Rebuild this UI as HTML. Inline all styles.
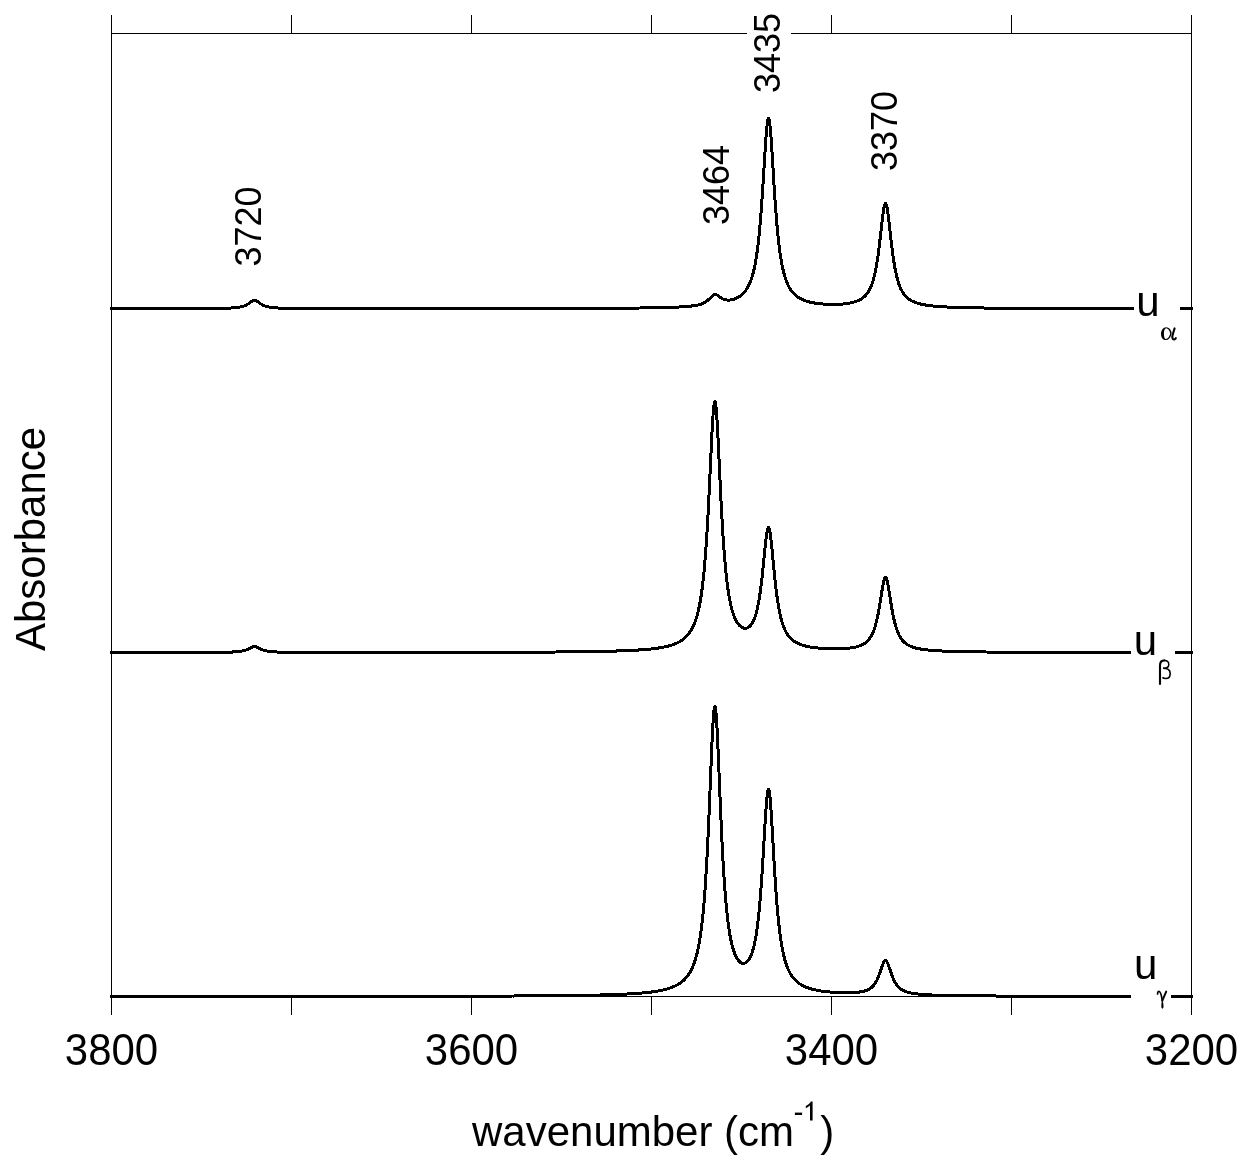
<!DOCTYPE html>
<html><head><meta charset="utf-8"><style>
html,body{margin:0;padding:0;background:#fff;}
svg{display:block;will-change:transform;}
text{font-family:"Liberation Sans",sans-serif;fill:#000;}
.g{font-family:"Liberation Serif",serif;}
</style></head><body>
<svg width="1253" height="1173" viewBox="0 0 1253 1173">
<rect width="1253" height="1173" fill="#fff"/>
<g stroke="#000" stroke-width="1" fill="none" shape-rendering="crispEdges">
<line x1="111.5" y1="15" x2="111.5" y2="1015"/>
<line x1="1191.5" y1="15" x2="1191.5" y2="1015"/>
<line x1="111" y1="33.5" x2="1192" y2="33.5"/>
<line x1="111" y1="996.5" x2="1192" y2="996.5"/>
<line x1="291.5" y1="15" x2="291.5" y2="33.5"/><line x1="291.5" y1="996" x2="291.5" y2="1015"/><line x1="471.5" y1="15" x2="471.5" y2="33.5"/><line x1="471.5" y1="996" x2="471.5" y2="1015"/><line x1="651.5" y1="15" x2="651.5" y2="33.5"/><line x1="651.5" y1="996" x2="651.5" y2="1015"/><line x1="831.5" y1="15" x2="831.5" y2="33.5"/><line x1="831.5" y1="996" x2="831.5" y2="1015"/><line x1="1011.5" y1="15" x2="1011.5" y2="33.5"/><line x1="1011.5" y1="996" x2="1011.5" y2="1015"/>
</g>
<g stroke="#000" stroke-width="3" fill="none" stroke-linejoin="round" shape-rendering="crispEdges">
<path d="M110.0,308.75 L110.5,308.74 L111.0,308.74 L111.5,308.74 L112.0,308.74 L112.5,308.74 L113.0,308.74 L113.5,308.74 L114.0,308.74 L114.5,308.74 L115.0,308.74 L115.5,308.74 L116.0,308.74 L116.5,308.74 L117.0,308.74 L117.5,308.74 L118.0,308.74 L118.5,308.74 L119.0,308.74 L119.5,308.74 L120.0,308.74 L120.5,308.74 L121.0,308.74 L121.5,308.74 L122.0,308.74 L122.5,308.74 L123.0,308.74 L123.5,308.74 L124.0,308.74 L124.5,308.74 L125.0,308.74 L125.5,308.74 L126.0,308.74 L126.5,308.74 L127.0,308.74 L127.5,308.74 L128.0,308.74 L128.5,308.74 L129.0,308.74 L129.5,308.74 L130.0,308.74 L130.5,308.74 L131.0,308.74 L131.5,308.73 L132.0,308.73 L132.5,308.73 L133.0,308.73 L133.5,308.73 L134.0,308.73 L134.5,308.73 L135.0,308.73 L135.5,308.73 L136.0,308.73 L136.5,308.73 L137.0,308.73 L137.5,308.73 L138.0,308.73 L138.5,308.73 L139.0,308.73 L139.5,308.73 L140.0,308.73 L140.5,308.73 L141.0,308.73 L141.5,308.73 L142.0,308.73 L142.5,308.73 L143.0,308.73 L143.5,308.73 L144.0,308.73 L144.5,308.73 L145.0,308.73 L145.5,308.73 L146.0,308.73 L146.5,308.72 L147.0,308.72 L147.5,308.72 L148.0,308.72 L148.5,308.72 L149.0,308.72 L149.5,308.72 L150.0,308.72 L150.5,308.72 L151.0,308.72 L151.5,308.72 L152.0,308.72 L152.5,308.72 L153.0,308.72 L153.5,308.72 L154.0,308.72 L154.5,308.72 L155.0,308.72 L155.5,308.72 L156.0,308.72 L156.5,308.72 L157.0,308.71 L157.5,308.71 L158.0,308.71 L158.5,308.71 L159.0,308.71 L159.5,308.71 L160.0,308.71 L160.5,308.71 L161.0,308.71 L161.5,308.71 L162.0,308.71 L162.5,308.71 L163.0,308.71 L163.5,308.71 L164.0,308.71 L164.5,308.71 L165.0,308.71 L165.5,308.70 L166.0,308.70 L166.5,308.70 L167.0,308.70 L167.5,308.70 L168.0,308.70 L168.5,308.70 L169.0,308.70 L169.5,308.70 L170.0,308.70 L170.5,308.70 L171.0,308.70 L171.5,308.70 L172.0,308.69 L172.5,308.69 L173.0,308.69 L173.5,308.69 L174.0,308.69 L174.5,308.69 L175.0,308.69 L175.5,308.69 L176.0,308.69 L176.5,308.69 L177.0,308.69 L177.5,308.68 L178.0,308.68 L178.5,308.68 L179.0,308.68 L179.5,308.68 L180.0,308.68 L180.5,308.68 L181.0,308.68 L181.5,308.68 L182.0,308.67 L182.5,308.67 L183.0,308.67 L183.5,308.67 L184.0,308.67 L184.5,308.67 L185.0,308.67 L185.5,308.67 L186.0,308.66 L186.5,308.66 L187.0,308.66 L187.5,308.66 L188.0,308.66 L188.5,308.66 L189.0,308.66 L189.5,308.65 L190.0,308.65 L190.5,308.65 L191.0,308.65 L191.5,308.65 L192.0,308.65 L192.5,308.64 L193.0,308.64 L193.5,308.64 L194.0,308.64 L194.5,308.64 L195.0,308.63 L195.5,308.63 L196.0,308.63 L196.5,308.63 L197.0,308.62 L197.5,308.62 L198.0,308.62 L198.5,308.62 L199.0,308.62 L199.5,308.61 L200.0,308.61 L200.5,308.61 L201.0,308.60 L201.5,308.60 L202.0,308.60 L202.5,308.60 L203.0,308.59 L203.5,308.59 L204.0,308.59 L204.5,308.58 L205.0,308.58 L205.5,308.58 L206.0,308.57 L206.5,308.57 L207.0,308.56 L207.5,308.56 L208.0,308.56 L208.5,308.55 L209.0,308.55 L209.5,308.54 L210.0,308.54 L210.5,308.53 L211.0,308.53 L211.5,308.52 L212.0,308.52 L212.5,308.51 L213.0,308.51 L213.5,308.50 L214.0,308.49 L214.5,308.49 L215.0,308.48 L215.5,308.47 L216.0,308.47 L216.5,308.46 L217.0,308.45 L217.5,308.44 L218.0,308.44 L218.5,308.43 L219.0,308.42 L219.5,308.41 L220.0,308.40 L220.5,308.39 L221.0,308.38 L221.5,308.37 L222.0,308.36 L222.5,308.35 L223.0,308.33 L223.5,308.32 L224.0,308.31 L224.5,308.29 L225.0,308.28 L225.5,308.26 L226.0,308.25 L226.5,308.23 L227.0,308.21 L227.5,308.19 L228.0,308.17 L228.5,308.15 L229.0,308.13 L229.5,308.11 L230.0,308.08 L230.5,308.06 L231.0,308.03 L231.5,308.00 L232.0,307.97 L232.5,307.94 L233.0,307.90 L233.5,307.87 L234.0,307.83 L234.5,307.79 L235.0,307.74 L235.5,307.69 L236.0,307.64 L236.5,307.59 L237.0,307.53 L237.5,307.47 L238.0,307.40 L238.5,307.33 L239.0,307.25 L239.5,307.16 L240.0,307.07 L240.5,306.97 L241.0,306.86 L241.5,306.75 L242.0,306.62 L242.5,306.48 L243.0,306.33 L243.5,306.17 L244.0,306.00 L244.5,305.81 L245.0,305.61 L245.5,305.39 L246.0,305.15 L246.5,304.90 L247.0,304.62 L247.5,304.33 L248.0,304.03 L248.5,303.70 L249.0,303.37 L249.5,303.02 L250.0,302.66 L250.5,302.31 L251.0,301.96 L251.5,301.62 L252.0,301.31 L252.5,301.04 L253.0,300.81 L253.5,300.64 L254.0,300.54 L254.5,300.50 L255.0,300.54 L255.5,300.64 L256.0,300.81 L256.5,301.04 L257.0,301.31 L257.5,301.62 L258.0,301.96 L258.5,302.31 L259.0,302.66 L259.5,303.02 L260.0,303.36 L260.5,303.70 L261.0,304.02 L261.5,304.33 L262.0,304.62 L262.5,304.89 L263.0,305.15 L263.5,305.38 L264.0,305.60 L264.5,305.81 L265.0,305.99 L265.5,306.17 L266.0,306.33 L266.5,306.48 L267.0,306.61 L267.5,306.74 L268.0,306.86 L268.5,306.96 L269.0,307.06 L269.5,307.16 L270.0,307.24 L270.5,307.32 L271.0,307.39 L271.5,307.46 L272.0,307.52 L272.5,307.58 L273.0,307.63 L273.5,307.69 L274.0,307.73 L274.5,307.78 L275.0,307.82 L275.5,307.86 L276.0,307.89 L276.5,307.93 L277.0,307.96 L277.5,307.99 L278.0,308.02 L278.5,308.05 L279.0,308.07 L279.5,308.10 L280.0,308.12 L280.5,308.14 L281.0,308.16 L281.5,308.18 L282.0,308.20 L282.5,308.22 L283.0,308.23 L283.5,308.25 L284.0,308.27 L284.5,308.28 L285.0,308.29 L285.5,308.31 L286.0,308.32 L286.5,308.33 L287.0,308.34 L287.5,308.36 L288.0,308.37 L288.5,308.38 L289.0,308.39 L289.5,308.40 L290.0,308.40 L290.5,308.41 L291.0,308.42 L291.5,308.43 L292.0,308.44 L292.5,308.44 L293.0,308.45 L293.5,308.46 L294.0,308.47 L294.5,308.47 L295.0,308.48 L295.5,308.48 L296.0,308.49 L296.5,308.49 L297.0,308.50 L297.5,308.51 L298.0,308.51 L298.5,308.51 L299.0,308.52 L299.5,308.52 L300.0,308.53 L300.5,308.53 L301.0,308.54 L301.5,308.54 L302.0,308.54 L302.5,308.55 L303.0,308.55 L303.5,308.56 L304.0,308.56 L304.5,308.56 L305.0,308.57 L305.5,308.57 L306.0,308.57 L306.5,308.57 L307.0,308.58 L307.5,308.58 L308.0,308.58 L308.5,308.58 L309.0,308.59 L309.5,308.59 L310.0,308.59 L310.5,308.59 L311.0,308.60 L311.5,308.60 L312.0,308.60 L312.5,308.60 L313.0,308.60 L313.5,308.61 L314.0,308.61 L314.5,308.61 L315.0,308.61 L315.5,308.61 L316.0,308.62 L316.5,308.62 L317.0,308.62 L317.5,308.62 L318.0,308.62 L318.5,308.62 L319.0,308.63 L319.5,308.63 L320.0,308.63 L320.5,308.63 L321.0,308.63 L321.5,308.63 L322.0,308.63 L322.5,308.63 L323.0,308.64 L323.5,308.64 L324.0,308.64 L324.5,308.64 L325.0,308.64 L325.5,308.64 L326.0,308.64 L326.5,308.64 L327.0,308.64 L327.5,308.65 L328.0,308.65 L328.5,308.65 L329.0,308.65 L329.5,308.65 L330.0,308.65 L330.5,308.65 L331.0,308.65 L331.5,308.65 L332.0,308.65 L332.5,308.65 L333.0,308.65 L333.5,308.65 L334.0,308.66 L334.5,308.66 L335.0,308.66 L335.5,308.66 L336.0,308.66 L336.5,308.66 L337.0,308.66 L337.5,308.66 L338.0,308.66 L338.5,308.66 L339.0,308.66 L339.5,308.66 L340.0,308.66 L340.5,308.66 L341.0,308.66 L341.5,308.66 L342.0,308.66 L342.5,308.67 L343.0,308.67 L343.5,308.67 L344.0,308.67 L344.5,308.67 L345.0,308.67 L345.5,308.67 L346.0,308.67 L346.5,308.67 L347.0,308.67 L347.5,308.67 L348.0,308.67 L348.5,308.67 L349.0,308.67 L349.5,308.67 L350.0,308.67 L350.5,308.67 L351.0,308.67 L351.5,308.67 L352.0,308.67 L352.5,308.67 L353.0,308.67 L353.5,308.67 L354.0,308.67 L354.5,308.67 L355.0,308.67 L355.5,308.67 L356.0,308.67 L356.5,308.67 L357.0,308.67 L357.5,308.67 L358.0,308.68 L358.5,308.68 L359.0,308.68 L359.5,308.68 L360.0,308.68 L360.5,308.68 L361.0,308.68 L361.5,308.68 L362.0,308.68 L362.5,308.68 L363.0,308.68 L363.5,308.68 L364.0,308.68 L364.5,308.68 L365.0,308.68 L365.5,308.68 L366.0,308.68 L366.5,308.68 L367.0,308.68 L367.5,308.68 L368.0,308.68 L368.5,308.68 L369.0,308.68 L369.5,308.68 L370.0,308.68 L370.5,308.68 L371.0,308.68 L371.5,308.68 L372.0,308.68 L372.5,308.68 L373.0,308.68 L373.5,308.68 L374.0,308.68 L374.5,308.68 L375.0,308.68 L375.5,308.68 L376.0,308.68 L376.5,308.68 L377.0,308.68 L377.5,308.68 L378.0,308.68 L378.5,308.68 L379.0,308.68 L379.5,308.68 L380.0,308.68 L380.5,308.68 L381.0,308.68 L381.5,308.68 L382.0,308.68 L382.5,308.68 L383.0,308.68 L383.5,308.68 L384.0,308.68 L384.5,308.68 L385.0,308.68 L385.5,308.68 L386.0,308.68 L386.5,308.68 L387.0,308.68 L387.5,308.68 L388.0,308.68 L388.5,308.68 L389.0,308.68 L389.5,308.68 L390.0,308.68 L390.5,308.68 L391.0,308.68 L391.5,308.68 L392.0,308.68 L392.5,308.68 L393.0,308.68 L393.5,308.68 L394.0,308.68 L394.5,308.68 L395.0,308.68 L395.5,308.68 L396.0,308.68 L396.5,308.68 L397.0,308.68 L397.5,308.68 L398.0,308.68 L398.5,308.68 L399.0,308.68 L399.5,308.68 L400.0,308.68 L400.5,308.68 L401.0,308.68 L401.5,308.68 L402.0,308.68 L402.5,308.68 L403.0,308.68 L403.5,308.67 L404.0,308.67 L404.5,308.67 L405.0,308.67 L405.5,308.67 L406.0,308.67 L406.5,308.67 L407.0,308.67 L407.5,308.67 L408.0,308.67 L408.5,308.67 L409.0,308.67 L409.5,308.67 L410.0,308.67 L410.5,308.67 L411.0,308.67 L411.5,308.67 L412.0,308.67 L412.5,308.67 L413.0,308.67 L413.5,308.67 L414.0,308.67 L414.5,308.67 L415.0,308.67 L415.5,308.67 L416.0,308.67 L416.5,308.67 L417.0,308.67 L417.5,308.67 L418.0,308.67 L418.5,308.67 L419.0,308.67 L419.5,308.67 L420.0,308.67 L420.5,308.67 L421.0,308.67 L421.5,308.67 L422.0,308.67 L422.5,308.67 L423.0,308.67 L423.5,308.67 L424.0,308.67 L424.5,308.67 L425.0,308.67 L425.5,308.67 L426.0,308.67 L426.5,308.67 L427.0,308.67 L427.5,308.67 L428.0,308.67 L428.5,308.66 L429.0,308.66 L429.5,308.66 L430.0,308.66 L430.5,308.66 L431.0,308.66 L431.5,308.66 L432.0,308.66 L432.5,308.66 L433.0,308.66 L433.5,308.66 L434.0,308.66 L434.5,308.66 L435.0,308.66 L435.5,308.66 L436.0,308.66 L436.5,308.66 L437.0,308.66 L437.5,308.66 L438.0,308.66 L438.5,308.66 L439.0,308.66 L439.5,308.66 L440.0,308.66 L440.5,308.66 L441.0,308.66 L441.5,308.66 L442.0,308.66 L442.5,308.66 L443.0,308.66 L443.5,308.66 L444.0,308.66 L444.5,308.66 L445.0,308.66 L445.5,308.65 L446.0,308.65 L446.5,308.65 L447.0,308.65 L447.5,308.65 L448.0,308.65 L448.5,308.65 L449.0,308.65 L449.5,308.65 L450.0,308.65 L450.5,308.65 L451.0,308.65 L451.5,308.65 L452.0,308.65 L452.5,308.65 L453.0,308.65 L453.5,308.65 L454.0,308.65 L454.5,308.65 L455.0,308.65 L455.5,308.65 L456.0,308.65 L456.5,308.65 L457.0,308.65 L457.5,308.65 L458.0,308.65 L458.5,308.65 L459.0,308.65 L459.5,308.64 L460.0,308.64 L460.5,308.64 L461.0,308.64 L461.5,308.64 L462.0,308.64 L462.5,308.64 L463.0,308.64 L463.5,308.64 L464.0,308.64 L464.5,308.64 L465.0,308.64 L465.5,308.64 L466.0,308.64 L466.5,308.64 L467.0,308.64 L467.5,308.64 L468.0,308.64 L468.5,308.64 L469.0,308.64 L469.5,308.64 L470.0,308.64 L470.5,308.64 L471.0,308.63 L471.5,308.63 L472.0,308.63 L472.5,308.63 L473.0,308.63 L473.5,308.63 L474.0,308.63 L474.5,308.63 L475.0,308.63 L475.5,308.63 L476.0,308.63 L476.5,308.63 L477.0,308.63 L477.5,308.63 L478.0,308.63 L478.5,308.63 L479.0,308.63 L479.5,308.63 L480.0,308.63 L480.5,308.63 L481.0,308.63 L481.5,308.62 L482.0,308.62 L482.5,308.62 L483.0,308.62 L483.5,308.62 L484.0,308.62 L484.5,308.62 L485.0,308.62 L485.5,308.62 L486.0,308.62 L486.5,308.62 L487.0,308.62 L487.5,308.62 L488.0,308.62 L488.5,308.62 L489.0,308.62 L489.5,308.62 L490.0,308.62 L490.5,308.61 L491.0,308.61 L491.5,308.61 L492.0,308.61 L492.5,308.61 L493.0,308.61 L493.5,308.61 L494.0,308.61 L494.5,308.61 L495.0,308.61 L495.5,308.61 L496.0,308.61 L496.5,308.61 L497.0,308.61 L497.5,308.61 L498.0,308.61 L498.5,308.61 L499.0,308.60 L499.5,308.60 L500.0,308.60 L500.5,308.60 L501.0,308.60 L501.5,308.60 L502.0,308.60 L502.5,308.60 L503.0,308.60 L503.5,308.60 L504.0,308.60 L504.5,308.60 L505.0,308.60 L505.5,308.60 L506.0,308.60 L506.5,308.59 L507.0,308.59 L507.5,308.59 L508.0,308.59 L508.5,308.59 L509.0,308.59 L509.5,308.59 L510.0,308.59 L510.5,308.59 L511.0,308.59 L511.5,308.59 L512.0,308.59 L512.5,308.59 L513.0,308.59 L513.5,308.58 L514.0,308.58 L514.5,308.58 L515.0,308.58 L515.5,308.58 L516.0,308.58 L516.5,308.58 L517.0,308.58 L517.5,308.58 L518.0,308.58 L518.5,308.58 L519.0,308.58 L519.5,308.57 L520.0,308.57 L520.5,308.57 L521.0,308.57 L521.5,308.57 L522.0,308.57 L522.5,308.57 L523.0,308.57 L523.5,308.57 L524.0,308.57 L524.5,308.57 L525.0,308.57 L525.5,308.56 L526.0,308.56 L526.5,308.56 L527.0,308.56 L527.5,308.56 L528.0,308.56 L528.5,308.56 L529.0,308.56 L529.5,308.56 L530.0,308.56 L530.5,308.56 L531.0,308.55 L531.5,308.55 L532.0,308.55 L532.5,308.55 L533.0,308.55 L533.5,308.55 L534.0,308.55 L534.5,308.55 L535.0,308.55 L535.5,308.55 L536.0,308.54 L536.5,308.54 L537.0,308.54 L537.5,308.54 L538.0,308.54 L538.5,308.54 L539.0,308.54 L539.5,308.54 L540.0,308.54 L540.5,308.54 L541.0,308.53 L541.5,308.53 L542.0,308.53 L542.5,308.53 L543.0,308.53 L543.5,308.53 L544.0,308.53 L544.5,308.53 L545.0,308.53 L545.5,308.52 L546.0,308.52 L546.5,308.52 L547.0,308.52 L547.5,308.52 L548.0,308.52 L548.5,308.52 L549.0,308.52 L549.5,308.52 L550.0,308.51 L550.5,308.51 L551.0,308.51 L551.5,308.51 L552.0,308.51 L552.5,308.51 L553.0,308.51 L553.5,308.51 L554.0,308.50 L554.5,308.50 L555.0,308.50 L555.5,308.50 L556.0,308.50 L556.5,308.50 L557.0,308.50 L557.5,308.49 L558.0,308.49 L558.5,308.49 L559.0,308.49 L559.5,308.49 L560.0,308.49 L560.5,308.49 L561.0,308.48 L561.5,308.48 L562.0,308.48 L562.5,308.48 L563.0,308.48 L563.5,308.48 L564.0,308.48 L564.5,308.47 L565.0,308.47 L565.5,308.47 L566.0,308.47 L566.5,308.47 L567.0,308.47 L567.5,308.47 L568.0,308.46 L568.5,308.46 L569.0,308.46 L569.5,308.46 L570.0,308.46 L570.5,308.46 L571.0,308.45 L571.5,308.45 L572.0,308.45 L572.5,308.45 L573.0,308.45 L573.5,308.45 L574.0,308.44 L574.5,308.44 L575.0,308.44 L575.5,308.44 L576.0,308.44 L576.5,308.43 L577.0,308.43 L577.5,308.43 L578.0,308.43 L578.5,308.43 L579.0,308.43 L579.5,308.42 L580.0,308.42 L580.5,308.42 L581.0,308.42 L581.5,308.42 L582.0,308.41 L582.5,308.41 L583.0,308.41 L583.5,308.41 L584.0,308.41 L584.5,308.40 L585.0,308.40 L585.5,308.40 L586.0,308.40 L586.5,308.40 L587.0,308.39 L587.5,308.39 L588.0,308.39 L588.5,308.39 L589.0,308.38 L589.5,308.38 L590.0,308.38 L590.5,308.38 L591.0,308.38 L591.5,308.37 L592.0,308.37 L592.5,308.37 L593.0,308.37 L593.5,308.36 L594.0,308.36 L594.5,308.36 L595.0,308.36 L595.5,308.35 L596.0,308.35 L596.5,308.35 L597.0,308.35 L597.5,308.34 L598.0,308.34 L598.5,308.34 L599.0,308.34 L599.5,308.33 L600.0,308.33 L600.5,308.33 L601.0,308.33 L601.5,308.32 L602.0,308.32 L602.5,308.32 L603.0,308.31 L603.5,308.31 L604.0,308.31 L604.5,308.31 L605.0,308.30 L605.5,308.30 L606.0,308.30 L606.5,308.29 L607.0,308.29 L607.5,308.29 L608.0,308.28 L608.5,308.28 L609.0,308.28 L609.5,308.27 L610.0,308.27 L610.5,308.27 L611.0,308.26 L611.5,308.26 L612.0,308.26 L612.5,308.25 L613.0,308.25 L613.5,308.25 L614.0,308.24 L614.5,308.24 L615.0,308.24 L615.5,308.23 L616.0,308.23 L616.5,308.23 L617.0,308.22 L617.5,308.22 L618.0,308.21 L618.5,308.21 L619.0,308.21 L619.5,308.20 L620.0,308.20 L620.5,308.20 L621.0,308.19 L621.5,308.19 L622.0,308.18 L622.5,308.18 L623.0,308.17 L623.5,308.17 L624.0,308.17 L624.5,308.16 L625.0,308.16 L625.5,308.15 L626.0,308.15 L626.5,308.14 L627.0,308.14 L627.5,308.13 L628.0,308.13 L628.5,308.12 L629.0,308.12 L629.5,308.11 L630.0,308.11 L630.5,308.10 L631.0,308.10 L631.5,308.09 L632.0,308.09 L632.5,308.08 L633.0,308.08 L633.5,308.07 L634.0,308.07 L634.5,308.06 L635.0,308.06 L635.5,308.05 L636.0,308.04 L636.5,308.04 L637.0,308.03 L637.5,308.03 L638.0,308.02 L638.5,308.01 L639.0,308.01 L639.5,308.00 L640.0,308.00 L640.5,307.99 L641.0,307.98 L641.5,307.98 L642.0,307.97 L642.5,307.96 L643.0,307.96 L643.5,307.95 L644.0,307.94 L644.5,307.93 L645.0,307.93 L645.5,307.92 L646.0,307.91 L646.5,307.91 L647.0,307.90 L647.5,307.89 L648.0,307.88 L648.5,307.87 L649.0,307.87 L649.5,307.86 L650.0,307.85 L650.5,307.84 L651.0,307.83 L651.5,307.82 L652.0,307.81 L652.5,307.80 L653.0,307.80 L653.5,307.79 L654.0,307.78 L654.5,307.77 L655.0,307.76 L655.5,307.75 L656.0,307.74 L656.5,307.73 L657.0,307.72 L657.5,307.71 L658.0,307.70 L658.5,307.68 L659.0,307.67 L659.5,307.66 L660.0,307.65 L660.5,307.64 L661.0,307.63 L661.5,307.61 L662.0,307.60 L662.5,307.59 L663.0,307.58 L663.5,307.56 L664.0,307.55 L664.5,307.54 L665.0,307.52 L665.5,307.51 L666.0,307.50 L666.5,307.48 L667.0,307.47 L667.5,307.45 L668.0,307.44 L668.5,307.42 L669.0,307.40 L669.5,307.39 L670.0,307.37 L670.5,307.35 L671.0,307.34 L671.5,307.32 L672.0,307.30 L672.5,307.28 L673.0,307.26 L673.5,307.24 L674.0,307.22 L674.5,307.20 L675.0,307.18 L675.5,307.16 L676.0,307.14 L676.5,307.12 L677.0,307.09 L677.5,307.07 L678.0,307.04 L678.5,307.02 L679.0,306.99 L679.5,306.97 L680.0,306.94 L680.5,306.91 L681.0,306.89 L681.5,306.86 L682.0,306.83 L682.5,306.80 L683.0,306.76 L683.5,306.73 L684.0,306.70 L684.5,306.66 L685.0,306.63 L685.5,306.59 L686.0,306.55 L686.5,306.51 L687.0,306.47 L687.5,306.43 L688.0,306.38 L688.5,306.34 L689.0,306.29 L689.5,306.24 L690.0,306.19 L690.5,306.14 L691.0,306.08 L691.5,306.02 L692.0,305.96 L692.5,305.90 L693.0,305.83 L693.5,305.76 L694.0,305.69 L694.5,305.61 L695.0,305.53 L695.5,305.45 L696.0,305.36 L696.5,305.27 L697.0,305.17 L697.5,305.06 L698.0,304.95 L698.5,304.83 L699.0,304.70 L699.5,304.57 L700.0,304.42 L700.5,304.27 L701.0,304.11 L701.5,303.93 L702.0,303.74 L702.5,303.54 L703.0,303.32 L703.5,303.09 L704.0,302.84 L704.5,302.57 L705.0,302.28 L705.5,301.97 L706.0,301.64 L706.5,301.29 L707.0,300.91 L707.5,300.51 L708.0,300.08 L708.5,299.63 L709.0,299.16 L709.5,298.67 L710.0,298.17 L710.5,297.66 L711.0,297.15 L711.5,296.65 L712.0,296.17 L712.5,295.72 L713.0,295.33 L713.5,295.00 L714.0,294.74 L714.5,294.57 L714.9,294.50 L715.0,294.48 L715.5,294.49 L716.0,294.59 L716.5,294.76 L717.0,295.01 L717.5,295.30 L718.0,295.64 L718.5,296.00 L719.0,296.38 L719.5,296.76 L720.0,297.13 L720.5,297.49 L721.0,297.83 L721.5,298.15 L722.0,298.45 L722.5,298.72 L723.0,298.96 L723.5,299.18 L724.0,299.37 L724.5,299.54 L725.0,299.68 L725.5,299.80 L726.0,299.90 L726.5,299.97 L727.0,300.03 L727.5,300.07 L728.0,300.09 L728.5,300.09 L729.0,300.07 L729.5,300.04 L730.0,299.99 L730.5,299.93 L731.0,299.86 L731.5,299.77 L732.0,299.67 L732.5,299.55 L733.0,299.42 L733.5,299.28 L734.0,299.12 L734.5,298.95 L735.0,298.77 L735.5,298.57 L736.0,298.36 L736.5,298.13 L737.0,297.89 L737.5,297.63 L738.0,297.36 L738.5,297.07 L739.0,296.77 L739.5,296.44 L740.0,296.10 L740.5,295.74 L741.0,295.35 L741.5,294.95 L742.0,294.52 L742.5,294.06 L743.0,293.58 L743.5,293.07 L744.0,292.53 L744.5,291.96 L745.0,291.35 L745.5,290.70 L746.0,290.01 L746.5,289.28 L747.0,288.51 L747.5,287.68 L748.0,286.79 L748.5,285.85 L749.0,284.84 L749.5,283.76 L750.0,282.60 L750.5,281.36 L751.0,280.02 L751.5,278.58 L752.0,277.03 L752.5,275.36 L753.0,273.56 L753.5,271.61 L754.0,269.50 L754.5,267.22 L755.0,264.75 L755.5,262.07 L756.0,259.17 L756.5,256.02 L757.0,252.61 L757.5,248.92 L758.0,244.92 L758.5,240.59 L759.0,235.91 L759.5,230.86 L760.0,225.42 L760.5,219.58 L761.0,213.33 L761.5,206.67 L762.0,199.61 L762.5,192.18 L763.0,184.43 L763.5,176.42 L764.0,168.25 L764.5,160.06 L765.0,152.02 L765.5,144.32 L766.0,137.20 L766.5,130.90 L767.0,125.68 L767.5,121.76 L768.0,119.33 L768.5,118.50 L769.0,119.33 L769.5,121.76 L770.0,125.68 L770.5,130.90 L771.0,137.20 L771.5,144.32 L772.0,152.02 L772.5,160.06 L773.0,168.25 L773.5,176.42 L774.0,184.43 L774.5,192.19 L775.0,199.62 L775.5,206.68 L776.0,213.34 L776.5,219.59 L777.0,225.43 L777.5,230.87 L778.0,235.92 L778.5,240.60 L779.0,244.93 L779.5,248.93 L780.0,252.63 L780.5,256.04 L781.0,259.19 L781.5,262.09 L782.0,264.77 L782.5,267.25 L783.0,269.53 L783.5,271.64 L784.0,273.59 L784.5,275.40 L785.0,277.08 L785.5,278.63 L786.0,280.07 L786.5,281.41 L787.0,282.66 L787.5,283.83 L788.0,284.91 L788.5,285.93 L789.0,286.88 L789.5,287.77 L790.0,288.61 L790.5,289.40 L791.0,290.14 L791.5,290.83 L792.0,291.49 L792.5,292.11 L793.0,292.69 L793.5,293.25 L794.0,293.77 L794.5,294.27 L795.0,294.74 L795.5,295.19 L796.0,295.61 L796.5,296.02 L797.0,296.40 L797.5,296.76 L798.0,297.11 L798.5,297.44 L799.0,297.76 L799.5,298.06 L800.0,298.35 L800.5,298.62 L801.0,298.89 L801.5,299.14 L802.0,299.38 L802.5,299.61 L803.0,299.83 L803.5,300.04 L804.0,300.24 L804.5,300.43 L805.0,300.62 L805.5,300.79 L806.0,300.96 L806.5,301.13 L807.0,301.28 L807.5,301.43 L808.0,301.58 L808.5,301.72 L809.0,301.85 L809.5,301.98 L810.0,302.10 L810.5,302.22 L811.0,302.33 L811.5,302.44 L812.0,302.55 L812.5,302.65 L813.0,302.74 L813.5,302.84 L814.0,302.92 L814.5,303.01 L815.0,303.09 L815.5,303.17 L816.0,303.25 L816.5,303.32 L817.0,303.39 L817.5,303.45 L818.0,303.52 L818.5,303.58 L819.0,303.64 L819.5,303.69 L820.0,303.75 L820.5,303.80 L821.0,303.85 L821.5,303.89 L822.0,303.94 L822.5,303.98 L823.0,304.02 L823.5,304.05 L824.0,304.09 L824.5,304.12 L825.0,304.15 L825.5,304.18 L826.0,304.21 L826.5,304.23 L827.0,304.26 L827.5,304.28 L828.0,304.30 L828.5,304.32 L829.0,304.33 L829.5,304.35 L830.0,304.36 L830.5,304.37 L831.0,304.38 L831.5,304.38 L832.0,304.39 L832.5,304.39 L833.0,304.39 L833.5,304.39 L834.0,304.39 L834.5,304.38 L835.0,304.38 L835.5,304.37 L836.0,304.36 L836.5,304.34 L837.0,304.33 L837.5,304.31 L838.0,304.29 L838.5,304.27 L839.0,304.25 L839.5,304.23 L840.0,304.20 L840.5,304.17 L841.0,304.14 L841.5,304.10 L842.0,304.06 L842.5,304.02 L843.0,303.98 L843.5,303.94 L844.0,303.89 L844.5,303.84 L845.0,303.78 L845.5,303.73 L846.0,303.66 L846.5,303.60 L847.0,303.53 L847.5,303.46 L848.0,303.39 L848.5,303.31 L849.0,303.22 L849.5,303.13 L850.0,303.04 L850.5,302.94 L851.0,302.84 L851.5,302.73 L852.0,302.62 L852.5,302.50 L853.0,302.37 L853.5,302.24 L854.0,302.10 L854.5,301.95 L855.0,301.80 L855.5,301.64 L856.0,301.46 L856.5,301.28 L857.0,301.09 L857.5,300.89 L858.0,300.68 L858.5,300.46 L859.0,300.22 L859.5,299.97 L860.0,299.71 L860.5,299.43 L861.0,299.13 L861.5,298.82 L862.0,298.49 L862.5,298.13 L863.0,297.76 L863.5,297.36 L864.0,296.94 L864.5,296.48 L865.0,296.00 L865.5,295.49 L866.0,294.94 L866.5,294.34 L867.0,293.71 L867.5,293.03 L868.0,292.30 L868.5,291.51 L869.0,290.66 L869.5,289.75 L870.0,288.76 L870.5,287.69 L871.0,286.54 L871.5,285.29 L872.0,283.93 L872.5,282.46 L873.0,280.87 L873.5,279.14 L874.0,277.27 L874.5,275.24 L875.0,273.04 L875.5,270.66 L876.0,268.08 L876.5,265.31 L877.0,262.32 L877.5,259.11 L878.0,255.67 L878.5,252.00 L879.0,248.12 L879.5,244.03 L880.0,239.76 L880.5,235.36 L881.0,230.86 L881.5,226.35 L882.0,221.93 L882.5,217.69 L883.0,213.77 L883.5,210.31 L884.0,207.44 L884.5,205.28 L885.0,203.95 L885.5,203.50 L886.0,203.96 L886.5,205.31 L887.0,207.48 L887.5,210.36 L888.0,213.84 L888.5,217.77 L889.0,222.02 L889.5,226.46 L890.0,230.98 L890.5,235.48 L891.0,239.90 L891.5,244.19 L892.0,248.29 L892.5,252.18 L893.0,255.86 L893.5,259.31 L894.0,262.54 L894.5,265.54 L895.0,268.33 L895.5,270.92 L896.0,273.31 L896.5,275.52 L897.0,277.56 L897.5,279.45 L898.0,281.19 L898.5,282.80 L899.0,284.28 L899.5,285.65 L900.0,286.92 L900.5,288.09 L901.0,289.17 L901.5,290.17 L902.0,291.10 L902.5,291.96 L903.0,292.76 L903.5,293.51 L904.0,294.21 L904.5,294.85 L905.0,295.46 L905.5,296.03 L906.0,296.56 L906.5,297.05 L907.0,297.52 L907.5,297.96 L908.0,298.38 L908.5,298.77 L909.0,299.14 L909.5,299.48 L910.0,299.81 L910.5,300.13 L911.0,300.42 L911.5,300.70 L912.0,300.97 L912.5,301.22 L913.0,301.46 L913.5,301.69 L914.0,301.91 L914.5,302.12 L915.0,302.32 L915.5,302.51 L916.0,302.69 L916.5,302.86 L917.0,303.03 L917.5,303.19 L918.0,303.34 L918.5,303.49 L919.0,303.63 L919.5,303.76 L920.0,303.89 L920.5,304.01 L921.0,304.13 L921.5,304.25 L922.0,304.36 L922.5,304.46 L923.0,304.56 L923.5,304.66 L924.0,304.76 L924.5,304.85 L925.0,304.94 L925.5,305.02 L926.0,305.11 L926.5,305.18 L927.0,305.26 L927.5,305.34 L928.0,305.41 L928.5,305.48 L929.0,305.54 L929.5,305.61 L930.0,305.67 L930.5,305.73 L931.0,305.79 L931.5,305.85 L932.0,305.91 L932.5,305.96 L933.0,306.01 L933.5,306.06 L934.0,306.11 L934.5,306.16 L935.0,306.21 L935.5,306.25 L936.0,306.30 L936.5,306.34 L937.0,306.38 L937.5,306.42 L938.0,306.46 L938.5,306.50 L939.0,306.54 L939.5,306.57 L940.0,306.61 L940.5,306.64 L941.0,306.68 L941.5,306.71 L942.0,306.74 L942.5,306.77 L943.0,306.80 L943.5,306.83 L944.0,306.86 L944.5,306.89 L945.0,306.92 L945.5,306.95 L946.0,306.97 L946.5,307.00 L947.0,307.02 L947.5,307.05 L948.0,307.07 L948.5,307.10 L949.0,307.12 L949.5,307.14 L950.0,307.17 L950.5,307.19 L951.0,307.21 L951.5,307.23 L952.0,307.25 L952.5,307.27 L953.0,307.29 L953.5,307.31 L954.0,307.33 L954.5,307.34 L955.0,307.36 L955.5,307.38 L956.0,307.40 L956.5,307.41 L957.0,307.43 L957.5,307.45 L958.0,307.46 L958.5,307.48 L959.0,307.49 L959.5,307.51 L960.0,307.52 L960.5,307.54 L961.0,307.55 L961.5,307.57 L962.0,307.58 L962.5,307.59 L963.0,307.61 L963.5,307.62 L964.0,307.63 L964.5,307.65 L965.0,307.66 L965.5,307.67 L966.0,307.68 L966.5,307.69 L967.0,307.71 L967.5,307.72 L968.0,307.73 L968.5,307.74 L969.0,307.75 L969.5,307.76 L970.0,307.77 L970.5,307.78 L971.0,307.79 L971.5,307.80 L972.0,307.81 L972.5,307.82 L973.0,307.83 L973.5,307.84 L974.0,307.85 L974.5,307.86 L975.0,307.87 L975.5,307.87 L976.0,307.88 L976.5,307.89 L977.0,307.90 L977.5,307.91 L978.0,307.92 L978.5,307.92 L979.0,307.93 L979.5,307.94 L980.0,307.95 L980.5,307.96 L981.0,307.96 L981.5,307.97 L982.0,307.98 L982.5,307.98 L983.0,307.99 L983.5,308.00 L984.0,308.01 L984.5,308.01 L985.0,308.02 L985.5,308.02 L986.0,308.03 L986.5,308.04 L987.0,308.04 L987.5,308.05 L988.0,308.06 L988.5,308.06 L989.0,308.07 L989.5,308.07 L990.0,308.08 L990.5,308.09 L991.0,308.09 L991.5,308.10 L992.0,308.10 L992.5,308.11 L993.0,308.11 L993.5,308.12 L994.0,308.12 L994.5,308.13 L995.0,308.13 L995.5,308.14 L996.0,308.14 L996.5,308.15 L997.0,308.15 L997.5,308.16 L998.0,308.16 L998.5,308.17 L999.0,308.17 L999.5,308.18 L1000.0,308.18 L1000.5,308.19 L1001.0,308.19 L1001.5,308.20 L1002.0,308.20 L1002.5,308.20 L1003.0,308.21 L1003.5,308.21 L1004.0,308.22 L1004.5,308.22 L1005.0,308.22 L1005.5,308.23 L1006.0,308.23 L1006.5,308.24 L1007.0,308.24 L1007.5,308.24 L1008.0,308.25 L1008.5,308.25 L1009.0,308.26 L1009.5,308.26 L1010.0,308.26 L1010.5,308.27 L1011.0,308.27 L1011.5,308.27 L1012.0,308.28 L1012.5,308.28 L1013.0,308.28 L1013.5,308.29 L1014.0,308.29 L1014.5,308.29 L1015.0,308.30 L1015.5,308.30 L1016.0,308.30 L1016.5,308.31 L1017.0,308.31 L1017.5,308.31 L1018.0,308.32 L1018.5,308.32 L1019.0,308.32 L1019.5,308.32 L1020.0,308.33 L1020.5,308.33 L1021.0,308.33 L1021.5,308.34 L1022.0,308.34 L1022.5,308.34 L1023.0,308.34 L1023.5,308.35 L1024.0,308.35 L1024.5,308.35 L1025.0,308.36 L1025.5,308.36 L1026.0,308.36 L1026.5,308.36 L1027.0,308.37 L1027.5,308.37 L1028.0,308.37 L1028.5,308.37 L1029.0,308.38 L1029.5,308.38 L1030.0,308.38 L1030.5,308.38 L1031.0,308.39 L1031.5,308.39 L1032.0,308.39 L1032.5,308.39 L1033.0,308.39 L1033.5,308.40 L1034.0,308.40 L1034.5,308.40 L1035.0,308.40 L1035.5,308.41 L1036.0,308.41 L1036.5,308.41 L1037.0,308.41 L1037.5,308.41 L1038.0,308.42 L1038.5,308.42 L1039.0,308.42 L1039.5,308.42 L1040.0,308.42 L1040.5,308.43 L1041.0,308.43 L1041.5,308.43 L1042.0,308.43 L1042.5,308.43 L1043.0,308.44 L1043.5,308.44 L1044.0,308.44 L1044.5,308.44 L1045.0,308.44 L1045.5,308.45 L1046.0,308.45 L1046.5,308.45 L1047.0,308.45 L1047.5,308.45 L1048.0,308.46 L1048.5,308.46 L1049.0,308.46 L1049.5,308.46 L1050.0,308.46 L1050.5,308.46 L1051.0,308.47 L1051.5,308.47 L1052.0,308.47 L1052.5,308.47 L1053.0,308.47 L1053.5,308.47 L1054.0,308.48 L1054.5,308.48 L1055.0,308.48 L1055.5,308.48 L1056.0,308.48 L1056.5,308.48 L1057.0,308.48 L1057.5,308.49 L1058.0,308.49 L1058.5,308.49 L1059.0,308.49 L1059.5,308.49 L1060.0,308.49 L1060.5,308.50 L1061.0,308.50 L1061.5,308.50 L1062.0,308.50 L1062.5,308.50 L1063.0,308.50 L1063.5,308.50 L1064.0,308.51 L1064.5,308.51 L1065.0,308.51 L1065.5,308.51 L1066.0,308.51 L1066.5,308.51 L1067.0,308.51 L1067.5,308.51 L1068.0,308.52 L1068.5,308.52 L1069.0,308.52 L1069.5,308.52 L1070.0,308.52 L1070.5,308.52 L1071.0,308.52 L1071.5,308.52 L1072.0,308.53 L1072.5,308.53 L1073.0,308.53 L1073.5,308.53 L1074.0,308.53 L1074.5,308.53 L1075.0,308.53 L1075.5,308.53 L1076.0,308.54 L1076.5,308.54 L1077.0,308.54 L1077.5,308.54 L1078.0,308.54 L1078.5,308.54 L1079.0,308.54 L1079.5,308.54 L1080.0,308.54 L1080.5,308.55 L1081.0,308.55 L1081.5,308.55 L1082.0,308.55 L1082.5,308.55 L1083.0,308.55 L1083.5,308.55 L1084.0,308.55 L1084.5,308.55 L1085.0,308.56 L1085.5,308.56 L1086.0,308.56 L1086.5,308.56 L1087.0,308.56 L1087.5,308.56 L1088.0,308.56 L1088.5,308.56 L1089.0,308.56 L1089.5,308.56 L1090.0,308.57 L1090.5,308.57 L1091.0,308.57 L1091.5,308.57 L1092.0,308.57 L1092.5,308.57 L1093.0,308.57 L1093.5,308.57 L1094.0,308.57 L1094.5,308.57 L1095.0,308.57 L1095.5,308.58 L1096.0,308.58 L1096.5,308.58 L1097.0,308.58 L1097.5,308.58 L1098.0,308.58 L1098.5,308.58 L1099.0,308.58 L1099.5,308.58 L1100.0,308.58 L1100.5,308.58 L1101.0,308.58 L1101.5,308.59 L1102.0,308.59 L1102.5,308.59 L1103.0,308.59 L1103.5,308.59 L1104.0,308.59 L1104.5,308.59 L1105.0,308.59 L1105.5,308.59 L1106.0,308.59 L1106.5,308.59 L1107.0,308.59 L1107.5,308.60 L1108.0,308.60 L1108.5,308.60 L1109.0,308.60 L1109.5,308.60 L1110.0,308.60 L1110.5,308.60 L1111.0,308.60 L1111.5,308.60 L1112.0,308.60 L1112.5,308.60 L1113.0,308.60 L1113.5,308.60 L1114.0,308.61 L1114.5,308.61 L1115.0,308.61 L1115.5,308.61 L1116.0,308.61 L1116.5,308.61 L1117.0,308.61 L1117.5,308.61 L1118.0,308.61 L1118.5,308.61 L1119.0,308.61 L1119.5,308.61 L1120.0,308.61 L1120.5,308.61 L1121.0,308.61 L1121.5,308.62 L1122.0,308.62 L1122.5,308.62 L1123.0,308.62 L1123.5,308.62 L1124.0,308.62 L1124.5,308.62 L1125.0,308.62 L1125.5,308.62 L1126.0,308.62 L1126.5,308.62 L1127.0,308.62 L1127.5,308.62 L1128.0,308.62 L1128.5,308.62 L1129.0,308.62 L1129.5,308.63 L1130.0,308.63 L1130.5,308.63 L1131.0,308.63 L1131.5,308.63 L1132.0,308.63 L1132.5,308.63 L1133.0,308.63 L1133.5,308.63 L1134.0,308.63 L1134.5,308.63 L1135.0,308.63 L1135.5,308.63 L1136.0,308.63 L1136.5,308.63 L1137.0,308.63 L1137.5,308.63 L1138.0,308.64 L1138.5,308.64 L1139.0,308.64 L1139.5,308.64 L1140.0,308.64 L1140.5,308.64 L1141.0,308.64 L1141.5,308.64 L1142.0,308.64 L1142.5,308.64 L1143.0,308.64 L1143.5,308.64 L1144.0,308.64 L1144.5,308.64 L1145.0,308.64 L1145.5,308.64 L1146.0,308.64 L1146.5,308.64 L1147.0,308.64 L1147.5,308.65 L1148.0,308.65 L1148.5,308.65 L1149.0,308.65 L1149.5,308.65 L1150.0,308.65 L1150.5,308.65 L1151.0,308.65 L1151.5,308.65 L1152.0,308.65 L1152.5,308.65 L1153.0,308.65 L1153.5,308.65 L1154.0,308.65 L1154.5,308.65 L1155.0,308.65 L1155.5,308.65 L1156.0,308.65 L1156.5,308.65 L1157.0,308.65 L1157.5,308.65 L1158.0,308.66 L1158.5,308.66 L1159.0,308.66 L1159.5,308.66 L1160.0,308.66 L1160.5,308.66 L1161.0,308.66 L1161.5,308.66 L1162.0,308.66 L1162.5,308.66 L1163.0,308.66 L1163.5,308.66 L1164.0,308.66 L1164.5,308.66 L1165.0,308.66 L1165.5,308.66 L1166.0,308.66 L1166.5,308.66 L1167.0,308.66 L1167.5,308.66 L1168.0,308.66 L1168.5,308.66 L1169.0,308.66 L1169.5,308.67 L1170.0,308.67 L1170.5,308.67 L1171.0,308.67 L1171.5,308.67 L1172.0,308.67 L1172.5,308.67 L1173.0,308.67 L1173.5,308.67 L1174.0,308.67 L1174.5,308.67 L1175.0,308.67 L1175.5,308.67 L1176.0,308.67 L1176.5,308.67 L1177.0,308.67 L1177.5,308.67 L1178.0,308.67 L1178.5,308.67 L1179.0,308.67 L1179.5,308.67 L1180.0,308.67 L1180.5,308.67 L1181.0,308.67 L1181.5,308.67 L1182.0,308.67 L1182.5,308.68 L1183.0,308.68 L1183.5,308.68 L1184.0,308.68 L1184.5,308.68 L1185.0,308.68 L1185.5,308.68 L1186.0,308.68 L1186.5,308.68 L1187.0,308.68 L1187.5,308.68 L1188.0,308.68 L1188.5,308.68 L1189.0,308.68 L1189.5,308.68 L1190.0,308.68 L1190.5,308.68 L1191.0,308.68 L1191.5,308.68 L1192.0,308.68 L1192.5,308.68 L1193.0,308.68"/>
<path d="M110.0,652.63 L110.5,652.63 L111.0,652.63 L111.5,652.63 L112.0,652.63 L112.5,652.63 L113.0,652.63 L113.5,652.63 L114.0,652.63 L114.5,652.63 L115.0,652.62 L115.5,652.62 L116.0,652.62 L116.5,652.62 L117.0,652.62 L117.5,652.62 L118.0,652.62 L118.5,652.62 L119.0,652.62 L119.5,652.62 L120.0,652.62 L120.5,652.62 L121.0,652.62 L121.5,652.62 L122.0,652.62 L122.5,652.62 L123.0,652.62 L123.5,652.62 L124.0,652.62 L124.5,652.62 L125.0,652.62 L125.5,652.62 L126.0,652.62 L126.5,652.62 L127.0,652.62 L127.5,652.62 L128.0,652.62 L128.5,652.62 L129.0,652.62 L129.5,652.62 L130.0,652.62 L130.5,652.62 L131.0,652.62 L131.5,652.62 L132.0,652.62 L132.5,652.62 L133.0,652.62 L133.5,652.62 L134.0,652.62 L134.5,652.62 L135.0,652.62 L135.5,652.61 L136.0,652.61 L136.5,652.61 L137.0,652.61 L137.5,652.61 L138.0,652.61 L138.5,652.61 L139.0,652.61 L139.5,652.61 L140.0,652.61 L140.5,652.61 L141.0,652.61 L141.5,652.61 L142.0,652.61 L142.5,652.61 L143.0,652.61 L143.5,652.61 L144.0,652.61 L144.5,652.61 L145.0,652.61 L145.5,652.61 L146.0,652.61 L146.5,652.61 L147.0,652.61 L147.5,652.61 L148.0,652.61 L148.5,652.61 L149.0,652.61 L149.5,652.61 L150.0,652.60 L150.5,652.60 L151.0,652.60 L151.5,652.60 L152.0,652.60 L152.5,652.60 L153.0,652.60 L153.5,652.60 L154.0,652.60 L154.5,652.60 L155.0,652.60 L155.5,652.60 L156.0,652.60 L156.5,652.60 L157.0,652.60 L157.5,652.60 L158.0,652.60 L158.5,652.60 L159.0,652.60 L159.5,652.60 L160.0,652.60 L160.5,652.60 L161.0,652.60 L161.5,652.59 L162.0,652.59 L162.5,652.59 L163.0,652.59 L163.5,652.59 L164.0,652.59 L164.5,652.59 L165.0,652.59 L165.5,652.59 L166.0,652.59 L166.5,652.59 L167.0,652.59 L167.5,652.59 L168.0,652.59 L168.5,652.59 L169.0,652.59 L169.5,652.59 L170.0,652.58 L170.5,652.58 L171.0,652.58 L171.5,652.58 L172.0,652.58 L172.5,652.58 L173.0,652.58 L173.5,652.58 L174.0,652.58 L174.5,652.58 L175.0,652.58 L175.5,652.58 L176.0,652.58 L176.5,652.58 L177.0,652.57 L177.5,652.57 L178.0,652.57 L178.5,652.57 L179.0,652.57 L179.5,652.57 L180.0,652.57 L180.5,652.57 L181.0,652.57 L181.5,652.57 L182.0,652.57 L182.5,652.56 L183.0,652.56 L183.5,652.56 L184.0,652.56 L184.5,652.56 L185.0,652.56 L185.5,652.56 L186.0,652.56 L186.5,652.56 L187.0,652.56 L187.5,652.55 L188.0,652.55 L188.5,652.55 L189.0,652.55 L189.5,652.55 L190.0,652.55 L190.5,652.55 L191.0,652.55 L191.5,652.54 L192.0,652.54 L192.5,652.54 L193.0,652.54 L193.5,652.54 L194.0,652.54 L194.5,652.53 L195.0,652.53 L195.5,652.53 L196.0,652.53 L196.5,652.53 L197.0,652.53 L197.5,652.52 L198.0,652.52 L198.5,652.52 L199.0,652.52 L199.5,652.52 L200.0,652.51 L200.5,652.51 L201.0,652.51 L201.5,652.51 L202.0,652.51 L202.5,652.50 L203.0,652.50 L203.5,652.50 L204.0,652.50 L204.5,652.49 L205.0,652.49 L205.5,652.49 L206.0,652.49 L206.5,652.48 L207.0,652.48 L207.5,652.48 L208.0,652.47 L208.5,652.47 L209.0,652.47 L209.5,652.46 L210.0,652.46 L210.5,652.46 L211.0,652.45 L211.5,652.45 L212.0,652.44 L212.5,652.44 L213.0,652.44 L213.5,652.43 L214.0,652.43 L214.5,652.42 L215.0,652.42 L215.5,652.41 L216.0,652.41 L216.5,652.40 L217.0,652.39 L217.5,652.39 L218.0,652.38 L218.5,652.38 L219.0,652.37 L219.5,652.36 L220.0,652.36 L220.5,652.35 L221.0,652.34 L221.5,652.33 L222.0,652.32 L222.5,652.31 L223.0,652.31 L223.5,652.30 L224.0,652.29 L224.5,652.28 L225.0,652.26 L225.5,652.25 L226.0,652.24 L226.5,652.23 L227.0,652.21 L227.5,652.20 L228.0,652.19 L228.5,652.17 L229.0,652.15 L229.5,652.14 L230.0,652.12 L230.5,652.10 L231.0,652.08 L231.5,652.06 L232.0,652.03 L232.5,652.01 L233.0,651.98 L233.5,651.96 L234.0,651.93 L234.5,651.90 L235.0,651.86 L235.5,651.83 L236.0,651.79 L236.5,651.75 L237.0,651.71 L237.5,651.66 L238.0,651.61 L238.5,651.56 L239.0,651.50 L239.5,651.43 L240.0,651.37 L240.5,651.29 L241.0,651.21 L241.5,651.13 L242.0,651.03 L242.5,650.93 L243.0,650.82 L243.5,650.70 L244.0,650.57 L244.5,650.43 L245.0,650.28 L245.5,650.12 L246.0,649.94 L246.5,649.76 L247.0,649.55 L247.5,649.34 L248.0,649.11 L248.5,648.87 L249.0,648.62 L249.5,648.37 L250.0,648.10 L250.5,647.84 L251.0,647.58 L251.5,647.33 L252.0,647.10 L252.5,646.90 L253.0,646.73 L253.5,646.61 L254.0,646.53 L254.5,646.50 L255.0,646.53 L255.5,646.60 L256.0,646.73 L256.5,646.90 L257.0,647.10 L257.5,647.33 L258.0,647.58 L258.5,647.84 L259.0,648.10 L259.5,648.36 L260.0,648.62 L260.5,648.87 L261.0,649.11 L261.5,649.33 L262.0,649.55 L262.5,649.75 L263.0,649.94 L263.5,650.11 L264.0,650.27 L264.5,650.43 L265.0,650.56 L265.5,650.69 L266.0,650.81 L266.5,650.92 L267.0,651.02 L267.5,651.12 L268.0,651.20 L268.5,651.28 L269.0,651.35 L269.5,651.42 L270.0,651.49 L270.5,651.54 L271.0,651.60 L271.5,651.65 L272.0,651.69 L272.5,651.74 L273.0,651.78 L273.5,651.81 L274.0,651.85 L274.5,651.88 L275.0,651.91 L275.5,651.94 L276.0,651.97 L276.5,651.99 L277.0,652.02 L277.5,652.04 L278.0,652.06 L278.5,652.08 L279.0,652.10 L279.5,652.12 L280.0,652.13 L280.5,652.15 L281.0,652.16 L281.5,652.18 L282.0,652.19 L282.5,652.21 L283.0,652.22 L283.5,652.23 L284.0,652.24 L284.5,652.25 L285.0,652.26 L285.5,652.27 L286.0,652.28 L286.5,652.29 L287.0,652.30 L287.5,652.31 L288.0,652.31 L288.5,652.32 L289.0,652.33 L289.5,652.33 L290.0,652.34 L290.5,652.35 L291.0,652.35 L291.5,652.36 L292.0,652.36 L292.5,652.37 L293.0,652.38 L293.5,652.38 L294.0,652.38 L294.5,652.39 L295.0,652.39 L295.5,652.40 L296.0,652.40 L296.5,652.41 L297.0,652.41 L297.5,652.41 L298.0,652.42 L298.5,652.42 L299.0,652.42 L299.5,652.43 L300.0,652.43 L300.5,652.43 L301.0,652.44 L301.5,652.44 L302.0,652.44 L302.5,652.44 L303.0,652.45 L303.5,652.45 L304.0,652.45 L304.5,652.45 L305.0,652.46 L305.5,652.46 L306.0,652.46 L306.5,652.46 L307.0,652.46 L307.5,652.47 L308.0,652.47 L308.5,652.47 L309.0,652.47 L309.5,652.47 L310.0,652.47 L310.5,652.48 L311.0,652.48 L311.5,652.48 L312.0,652.48 L312.5,652.48 L313.0,652.48 L313.5,652.48 L314.0,652.48 L314.5,652.49 L315.0,652.49 L315.5,652.49 L316.0,652.49 L316.5,652.49 L317.0,652.49 L317.5,652.49 L318.0,652.49 L318.5,652.49 L319.0,652.49 L319.5,652.50 L320.0,652.50 L320.5,652.50 L321.0,652.50 L321.5,652.50 L322.0,652.50 L322.5,652.50 L323.0,652.50 L323.5,652.50 L324.0,652.50 L324.5,652.50 L325.0,652.50 L325.5,652.50 L326.0,652.50 L326.5,652.51 L327.0,652.51 L327.5,652.51 L328.0,652.51 L328.5,652.51 L329.0,652.51 L329.5,652.51 L330.0,652.51 L330.5,652.51 L331.0,652.51 L331.5,652.51 L332.0,652.51 L332.5,652.51 L333.0,652.51 L333.5,652.51 L334.0,652.51 L334.5,652.51 L335.0,652.51 L335.5,652.51 L336.0,652.51 L336.5,652.51 L337.0,652.51 L337.5,652.51 L338.0,652.51 L338.5,652.51 L339.0,652.51 L339.5,652.51 L340.0,652.51 L340.5,652.51 L341.0,652.51 L341.5,652.51 L342.0,652.51 L342.5,652.51 L343.0,652.51 L343.5,652.51 L344.0,652.51 L344.5,652.51 L345.0,652.51 L345.5,652.51 L346.0,652.51 L346.5,652.51 L347.0,652.51 L347.5,652.51 L348.0,652.52 L348.5,652.52 L349.0,652.52 L349.5,652.52 L350.0,652.52 L350.5,652.51 L351.0,652.51 L351.5,652.51 L352.0,652.51 L352.5,652.51 L353.0,652.51 L353.5,652.51 L354.0,652.51 L354.5,652.51 L355.0,652.51 L355.5,652.51 L356.0,652.51 L356.5,652.51 L357.0,652.51 L357.5,652.51 L358.0,652.51 L358.5,652.51 L359.0,652.51 L359.5,652.51 L360.0,652.51 L360.5,652.51 L361.0,652.51 L361.5,652.51 L362.0,652.51 L362.5,652.51 L363.0,652.51 L363.5,652.51 L364.0,652.51 L364.5,652.51 L365.0,652.51 L365.5,652.51 L366.0,652.51 L366.5,652.51 L367.0,652.51 L367.5,652.51 L368.0,652.51 L368.5,652.51 L369.0,652.51 L369.5,652.51 L370.0,652.51 L370.5,652.51 L371.0,652.51 L371.5,652.51 L372.0,652.51 L372.5,652.51 L373.0,652.51 L373.5,652.51 L374.0,652.51 L374.5,652.51 L375.0,652.51 L375.5,652.51 L376.0,652.51 L376.5,652.51 L377.0,652.51 L377.5,652.51 L378.0,652.50 L378.5,652.50 L379.0,652.50 L379.5,652.50 L380.0,652.50 L380.5,652.50 L381.0,652.50 L381.5,652.50 L382.0,652.50 L382.5,652.50 L383.0,652.50 L383.5,652.50 L384.0,652.50 L384.5,652.50 L385.0,652.50 L385.5,652.50 L386.0,652.50 L386.5,652.50 L387.0,652.50 L387.5,652.50 L388.0,652.50 L388.5,652.50 L389.0,652.50 L389.5,652.50 L390.0,652.50 L390.5,652.50 L391.0,652.50 L391.5,652.50 L392.0,652.49 L392.5,652.49 L393.0,652.49 L393.5,652.49 L394.0,652.49 L394.5,652.49 L395.0,652.49 L395.5,652.49 L396.0,652.49 L396.5,652.49 L397.0,652.49 L397.5,652.49 L398.0,652.49 L398.5,652.49 L399.0,652.49 L399.5,652.49 L400.0,652.49 L400.5,652.49 L401.0,652.49 L401.5,652.49 L402.0,652.49 L402.5,652.49 L403.0,652.48 L403.5,652.48 L404.0,652.48 L404.5,652.48 L405.0,652.48 L405.5,652.48 L406.0,652.48 L406.5,652.48 L407.0,652.48 L407.5,652.48 L408.0,652.48 L408.5,652.48 L409.0,652.48 L409.5,652.48 L410.0,652.48 L410.5,652.48 L411.0,652.48 L411.5,652.48 L412.0,652.47 L412.5,652.47 L413.0,652.47 L413.5,652.47 L414.0,652.47 L414.5,652.47 L415.0,652.47 L415.5,652.47 L416.0,652.47 L416.5,652.47 L417.0,652.47 L417.5,652.47 L418.0,652.47 L418.5,652.47 L419.0,652.47 L419.5,652.47 L420.0,652.47 L420.5,652.46 L421.0,652.46 L421.5,652.46 L422.0,652.46 L422.5,652.46 L423.0,652.46 L423.5,652.46 L424.0,652.46 L424.5,652.46 L425.0,652.46 L425.5,652.46 L426.0,652.46 L426.5,652.46 L427.0,652.46 L427.5,652.46 L428.0,652.45 L428.5,652.45 L429.0,652.45 L429.5,652.45 L430.0,652.45 L430.5,652.45 L431.0,652.45 L431.5,652.45 L432.0,652.45 L432.5,652.45 L433.0,652.45 L433.5,652.45 L434.0,652.45 L434.5,652.45 L435.0,652.44 L435.5,652.44 L436.0,652.44 L436.5,652.44 L437.0,652.44 L437.5,652.44 L438.0,652.44 L438.5,652.44 L439.0,652.44 L439.5,652.44 L440.0,652.44 L440.5,652.44 L441.0,652.43 L441.5,652.43 L442.0,652.43 L442.5,652.43 L443.0,652.43 L443.5,652.43 L444.0,652.43 L444.5,652.43 L445.0,652.43 L445.5,652.43 L446.0,652.43 L446.5,652.43 L447.0,652.42 L447.5,652.42 L448.0,652.42 L448.5,652.42 L449.0,652.42 L449.5,652.42 L450.0,652.42 L450.5,652.42 L451.0,652.42 L451.5,652.42 L452.0,652.42 L452.5,652.41 L453.0,652.41 L453.5,652.41 L454.0,652.41 L454.5,652.41 L455.0,652.41 L455.5,652.41 L456.0,652.41 L456.5,652.41 L457.0,652.41 L457.5,652.40 L458.0,652.40 L458.5,652.40 L459.0,652.40 L459.5,652.40 L460.0,652.40 L460.5,652.40 L461.0,652.40 L461.5,652.40 L462.0,652.40 L462.5,652.39 L463.0,652.39 L463.5,652.39 L464.0,652.39 L464.5,652.39 L465.0,652.39 L465.5,652.39 L466.0,652.39 L466.5,652.39 L467.0,652.38 L467.5,652.38 L468.0,652.38 L468.5,652.38 L469.0,652.38 L469.5,652.38 L470.0,652.38 L470.5,652.38 L471.0,652.38 L471.5,652.37 L472.0,652.37 L472.5,652.37 L473.0,652.37 L473.5,652.37 L474.0,652.37 L474.5,652.37 L475.0,652.37 L475.5,652.36 L476.0,652.36 L476.5,652.36 L477.0,652.36 L477.5,652.36 L478.0,652.36 L478.5,652.36 L479.0,652.36 L479.5,652.35 L480.0,652.35 L480.5,652.35 L481.0,652.35 L481.5,652.35 L482.0,652.35 L482.5,652.35 L483.0,652.35 L483.5,652.34 L484.0,652.34 L484.5,652.34 L485.0,652.34 L485.5,652.34 L486.0,652.34 L486.5,652.34 L487.0,652.33 L487.5,652.33 L488.0,652.33 L488.5,652.33 L489.0,652.33 L489.5,652.33 L490.0,652.33 L490.5,652.32 L491.0,652.32 L491.5,652.32 L492.0,652.32 L492.5,652.32 L493.0,652.32 L493.5,652.31 L494.0,652.31 L494.5,652.31 L495.0,652.31 L495.5,652.31 L496.0,652.31 L496.5,652.30 L497.0,652.30 L497.5,652.30 L498.0,652.30 L498.5,652.30 L499.0,652.30 L499.5,652.29 L500.0,652.29 L500.5,652.29 L501.0,652.29 L501.5,652.29 L502.0,652.29 L502.5,652.28 L503.0,652.28 L503.5,652.28 L504.0,652.28 L504.5,652.28 L505.0,652.28 L505.5,652.27 L506.0,652.27 L506.5,652.27 L507.0,652.27 L507.5,652.27 L508.0,652.26 L508.5,652.26 L509.0,652.26 L509.5,652.26 L510.0,652.26 L510.5,652.25 L511.0,652.25 L511.5,652.25 L512.0,652.25 L512.5,652.25 L513.0,652.24 L513.5,652.24 L514.0,652.24 L514.5,652.24 L515.0,652.24 L515.5,652.23 L516.0,652.23 L516.5,652.23 L517.0,652.23 L517.5,652.23 L518.0,652.22 L518.5,652.22 L519.0,652.22 L519.5,652.22 L520.0,652.21 L520.5,652.21 L521.0,652.21 L521.5,652.21 L522.0,652.21 L522.5,652.20 L523.0,652.20 L523.5,652.20 L524.0,652.20 L524.5,652.19 L525.0,652.19 L525.5,652.19 L526.0,652.19 L526.5,652.18 L527.0,652.18 L527.5,652.18 L528.0,652.18 L528.5,652.17 L529.0,652.17 L529.5,652.17 L530.0,652.17 L530.5,652.16 L531.0,652.16 L531.5,652.16 L532.0,652.15 L532.5,652.15 L533.0,652.15 L533.5,652.15 L534.0,652.14 L534.5,652.14 L535.0,652.14 L535.5,652.14 L536.0,652.13 L536.5,652.13 L537.0,652.13 L537.5,652.12 L538.0,652.12 L538.5,652.12 L539.0,652.11 L539.5,652.11 L540.0,652.11 L540.5,652.11 L541.0,652.10 L541.5,652.10 L542.0,652.10 L542.5,652.09 L543.0,652.09 L543.5,652.09 L544.0,652.08 L544.5,652.08 L545.0,652.08 L545.5,652.07 L546.0,652.07 L546.5,652.07 L547.0,652.06 L547.5,652.06 L548.0,652.06 L548.5,652.05 L549.0,652.05 L549.5,652.05 L550.0,652.04 L550.5,652.04 L551.0,652.03 L551.5,652.03 L552.0,652.03 L552.5,652.02 L553.0,652.02 L553.5,652.02 L554.0,652.01 L554.5,652.01 L555.0,652.00 L555.5,652.00 L556.0,652.00 L556.5,651.99 L557.0,651.99 L557.5,651.98 L558.0,651.98 L558.5,651.97 L559.0,651.97 L559.5,651.97 L560.0,651.96 L560.5,651.96 L561.0,651.95 L561.5,651.95 L562.0,651.94 L562.5,651.94 L563.0,651.93 L563.5,651.93 L564.0,651.93 L564.5,651.92 L565.0,651.92 L565.5,651.91 L566.0,651.91 L566.5,651.90 L567.0,651.90 L567.5,651.89 L568.0,651.89 L568.5,651.88 L569.0,651.88 L569.5,651.87 L570.0,651.87 L570.5,651.86 L571.0,651.86 L571.5,651.85 L572.0,651.84 L572.5,651.84 L573.0,651.83 L573.5,651.83 L574.0,651.82 L574.5,651.82 L575.0,651.81 L575.5,651.80 L576.0,651.80 L576.5,651.79 L577.0,651.79 L577.5,651.78 L578.0,651.77 L578.5,651.77 L579.0,651.76 L579.5,651.76 L580.0,651.75 L580.5,651.74 L581.0,651.74 L581.5,651.73 L582.0,651.72 L582.5,651.72 L583.0,651.71 L583.5,651.70 L584.0,651.70 L584.5,651.69 L585.0,651.68 L585.5,651.67 L586.0,651.67 L586.5,651.66 L587.0,651.65 L587.5,651.64 L588.0,651.64 L588.5,651.63 L589.0,651.62 L589.5,651.61 L590.0,651.61 L590.5,651.60 L591.0,651.59 L591.5,651.58 L592.0,651.57 L592.5,651.56 L593.0,651.56 L593.5,651.55 L594.0,651.54 L594.5,651.53 L595.0,651.52 L595.5,651.51 L596.0,651.50 L596.5,651.49 L597.0,651.48 L597.5,651.47 L598.0,651.46 L598.5,651.46 L599.0,651.45 L599.5,651.44 L600.0,651.43 L600.5,651.41 L601.0,651.40 L601.5,651.39 L602.0,651.38 L602.5,651.37 L603.0,651.36 L603.5,651.35 L604.0,651.34 L604.5,651.33 L605.0,651.32 L605.5,651.31 L606.0,651.29 L606.5,651.28 L607.0,651.27 L607.5,651.26 L608.0,651.25 L608.5,651.23 L609.0,651.22 L609.5,651.21 L610.0,651.19 L610.5,651.18 L611.0,651.17 L611.5,651.15 L612.0,651.14 L612.5,651.13 L613.0,651.11 L613.5,651.10 L614.0,651.08 L614.5,651.07 L615.0,651.05 L615.5,651.04 L616.0,651.02 L616.5,651.01 L617.0,650.99 L617.5,650.97 L618.0,650.96 L618.5,650.94 L619.0,650.93 L619.5,650.91 L620.0,650.89 L620.5,650.87 L621.0,650.86 L621.5,650.84 L622.0,650.82 L622.5,650.80 L623.0,650.78 L623.5,650.76 L624.0,650.74 L624.5,650.72 L625.0,650.70 L625.5,650.68 L626.0,650.66 L626.5,650.64 L627.0,650.62 L627.5,650.60 L628.0,650.57 L628.5,650.55 L629.0,650.53 L629.5,650.51 L630.0,650.48 L630.5,650.46 L631.0,650.43 L631.5,650.41 L632.0,650.38 L632.5,650.36 L633.0,650.33 L633.5,650.30 L634.0,650.28 L634.5,650.25 L635.0,650.22 L635.5,650.19 L636.0,650.16 L636.5,650.13 L637.0,650.10 L637.5,650.07 L638.0,650.04 L638.5,650.01 L639.0,649.98 L639.5,649.94 L640.0,649.91 L640.5,649.87 L641.0,649.84 L641.5,649.80 L642.0,649.77 L642.5,649.73 L643.0,649.69 L643.5,649.65 L644.0,649.61 L644.5,649.57 L645.0,649.53 L645.5,649.49 L646.0,649.45 L646.5,649.40 L647.0,649.36 L647.5,649.31 L648.0,649.27 L648.5,649.22 L649.0,649.17 L649.5,649.12 L650.0,649.07 L650.5,649.02 L651.0,648.96 L651.5,648.91 L652.0,648.85 L652.5,648.80 L653.0,648.74 L653.5,648.68 L654.0,648.62 L654.5,648.56 L655.0,648.49 L655.5,648.43 L656.0,648.36 L656.5,648.29 L657.0,648.22 L657.5,648.15 L658.0,648.08 L658.5,648.00 L659.0,647.92 L659.5,647.84 L660.0,647.76 L660.5,647.68 L661.0,647.59 L661.5,647.51 L662.0,647.41 L662.5,647.32 L663.0,647.23 L663.5,647.13 L664.0,647.03 L664.5,646.92 L665.0,646.82 L665.5,646.71 L666.0,646.59 L666.5,646.48 L667.0,646.36 L667.5,646.23 L668.0,646.11 L668.5,645.98 L669.0,645.84 L669.5,645.70 L670.0,645.56 L670.5,645.41 L671.0,645.26 L671.5,645.10 L672.0,644.94 L672.5,644.77 L673.0,644.59 L673.5,644.41 L674.0,644.23 L674.5,644.04 L675.0,643.84 L675.5,643.63 L676.0,643.41 L676.5,643.19 L677.0,642.96 L677.5,642.72 L678.0,642.48 L678.5,642.22 L679.0,641.95 L679.5,641.67 L680.0,641.38 L680.5,641.08 L681.0,640.77 L681.5,640.44 L682.0,640.10 L682.5,639.75 L683.0,639.38 L683.5,638.99 L684.0,638.59 L684.5,638.16 L685.0,637.72 L685.5,637.26 L686.0,636.78 L686.5,636.27 L687.0,635.74 L687.5,635.18 L688.0,634.59 L688.5,633.98 L689.0,633.33 L689.5,632.64 L690.0,631.92 L690.5,631.16 L691.0,630.36 L691.5,629.51 L692.0,628.61 L692.5,627.66 L693.0,626.65 L693.5,625.58 L694.0,624.44 L694.5,623.22 L695.0,621.93 L695.5,620.55 L696.0,619.07 L696.5,617.49 L697.0,615.79 L697.5,613.97 L698.0,612.01 L698.5,609.90 L699.0,607.63 L699.5,605.18 L700.0,602.53 L700.5,599.67 L701.0,596.58 L701.5,593.23 L702.0,589.60 L702.5,585.67 L703.0,581.41 L703.5,576.80 L704.0,571.81 L704.5,566.40 L705.0,560.56 L705.5,554.24 L706.0,547.44 L706.5,540.12 L707.0,532.26 L707.5,523.87 L708.0,514.94 L708.5,505.50 L709.0,495.59 L709.5,485.27 L710.0,474.64 L710.5,463.87 L711.0,453.12 L711.5,442.64 L712.0,432.70 L712.5,423.61 L713.0,415.70 L713.5,409.29 L714.0,404.67 L714.5,402.06 L714.9,401.50 L715.0,401.59 L715.5,403.27 L716.0,407.03 L716.5,412.67 L717.0,419.93 L717.5,428.51 L718.0,438.06 L718.5,448.28 L719.0,458.87 L719.5,469.58 L720.0,480.19 L720.5,490.56 L721.0,500.56 L721.5,510.11 L722.0,519.16 L722.5,527.68 L723.0,535.66 L723.5,543.10 L724.0,550.01 L724.5,556.42 L725.0,562.35 L725.5,567.83 L726.0,572.88 L726.5,577.54 L727.0,581.83 L727.5,585.78 L728.0,589.41 L728.5,592.76 L729.0,595.83 L729.5,598.67 L730.0,601.27 L730.5,603.67 L731.0,605.88 L731.5,607.92 L732.0,609.80 L732.5,611.53 L733.0,613.13 L733.5,614.60 L734.0,615.97 L734.5,617.22 L735.0,618.38 L735.5,619.45 L736.0,620.44 L736.5,621.35 L737.0,622.19 L737.5,622.96 L738.0,623.67 L738.5,624.32 L739.0,624.91 L739.5,625.44 L740.0,625.93 L740.5,626.37 L741.0,626.75 L741.5,627.09 L742.0,627.39 L742.5,627.64 L743.0,627.85 L743.5,628.02 L744.0,628.15 L744.5,628.23 L745.0,628.27 L745.5,628.26 L746.0,628.22 L746.5,628.13 L747.0,627.99 L747.5,627.80 L748.0,627.57 L748.5,627.28 L749.0,626.94 L749.5,626.54 L750.0,626.08 L750.5,625.56 L751.0,624.97 L751.5,624.30 L752.0,623.55 L752.5,622.72 L753.0,621.79 L753.5,620.77 L754.0,619.63 L754.5,618.38 L755.0,617.00 L755.5,615.48 L756.0,613.82 L756.5,611.99 L757.0,609.99 L757.5,607.80 L758.0,605.42 L758.5,602.82 L759.0,599.99 L759.5,596.92 L760.0,593.61 L760.5,590.03 L761.0,586.19 L761.5,582.09 L762.0,577.73 L762.5,573.12 L763.0,568.31 L763.5,563.34 L764.0,558.26 L764.5,553.16 L765.0,548.15 L765.5,543.37 L766.0,538.94 L766.5,535.03 L767.0,531.81 L767.5,529.40 L768.0,527.94 L768.5,527.50 L769.0,528.10 L769.5,529.72 L770.0,532.29 L770.5,535.67 L771.0,539.74 L771.5,544.33 L772.0,549.28 L772.5,554.46 L773.0,559.72 L773.5,564.96 L774.0,570.11 L774.5,575.09 L775.0,579.87 L775.5,584.40 L776.0,588.68 L776.5,592.70 L777.0,596.46 L777.5,599.97 L778.0,603.22 L778.5,606.24 L779.0,609.04 L779.5,611.63 L780.0,614.02 L780.5,616.23 L781.0,618.27 L781.5,620.16 L782.0,621.90 L782.5,623.51 L783.0,625.00 L783.5,626.38 L784.0,627.65 L784.5,628.84 L785.0,629.94 L785.5,630.96 L786.0,631.91 L786.5,632.80 L787.0,633.62 L787.5,634.39 L788.0,635.12 L788.5,635.79 L789.0,636.43 L789.5,637.02 L790.0,637.58 L790.5,638.11 L791.0,638.61 L791.5,639.08 L792.0,639.52 L792.5,639.94 L793.0,640.34 L793.5,640.72 L794.0,641.08 L794.5,641.42 L795.0,641.74 L795.5,642.05 L796.0,642.34 L796.5,642.62 L797.0,642.88 L797.5,643.14 L798.0,643.38 L798.5,643.61 L799.0,643.83 L799.5,644.05 L800.0,644.25 L800.5,644.44 L801.0,644.63 L801.5,644.81 L802.0,644.98 L802.5,645.14 L803.0,645.30 L803.5,645.45 L804.0,645.60 L804.5,645.73 L805.0,645.87 L805.5,646.00 L806.0,646.12 L806.5,646.24 L807.0,646.36 L807.5,646.47 L808.0,646.57 L808.5,646.68 L809.0,646.78 L809.5,646.87 L810.0,646.96 L810.5,647.05 L811.0,647.14 L811.5,647.22 L812.0,647.30 L812.5,647.37 L813.0,647.45 L813.5,647.52 L814.0,647.59 L814.5,647.65 L815.0,647.72 L815.5,647.78 L816.0,647.84 L816.5,647.89 L817.0,647.95 L817.5,648.00 L818.0,648.05 L818.5,648.10 L819.0,648.15 L819.5,648.19 L820.0,648.24 L820.5,648.28 L821.0,648.32 L821.5,648.36 L822.0,648.39 L822.5,648.43 L823.0,648.46 L823.5,648.49 L824.0,648.52 L824.5,648.55 L825.0,648.58 L825.5,648.61 L826.0,648.63 L826.5,648.65 L827.0,648.68 L827.5,648.70 L828.0,648.72 L828.5,648.73 L829.0,648.75 L829.5,648.77 L830.0,648.78 L830.5,648.79 L831.0,648.80 L831.5,648.81 L832.0,648.82 L832.5,648.83 L833.0,648.83 L833.5,648.84 L834.0,648.84 L834.5,648.84 L835.0,648.84 L835.5,648.84 L836.0,648.84 L836.5,648.83 L837.0,648.83 L837.5,648.82 L838.0,648.81 L838.5,648.80 L839.0,648.79 L839.5,648.78 L840.0,648.76 L840.5,648.75 L841.0,648.73 L841.5,648.71 L842.0,648.68 L842.5,648.66 L843.0,648.63 L843.5,648.61 L844.0,648.58 L844.5,648.54 L845.0,648.51 L845.5,648.47 L846.0,648.43 L846.5,648.39 L847.0,648.35 L847.5,648.30 L848.0,648.25 L848.5,648.20 L849.0,648.14 L849.5,648.08 L850.0,648.02 L850.5,647.96 L851.0,647.89 L851.5,647.81 L852.0,647.74 L852.5,647.66 L853.0,647.57 L853.5,647.48 L854.0,647.38 L854.5,647.28 L855.0,647.18 L855.5,647.06 L856.0,646.95 L856.5,646.82 L857.0,646.69 L857.5,646.55 L858.0,646.40 L858.5,646.25 L859.0,646.08 L859.5,645.91 L860.0,645.72 L860.5,645.53 L861.0,645.32 L861.5,645.10 L862.0,644.87 L862.5,644.62 L863.0,644.36 L863.5,644.08 L864.0,643.78 L864.5,643.46 L865.0,643.12 L865.5,642.76 L866.0,642.37 L866.5,641.95 L867.0,641.50 L867.5,641.02 L868.0,640.51 L868.5,639.95 L869.0,639.35 L869.5,638.70 L870.0,638.00 L870.5,637.25 L871.0,636.43 L871.5,635.54 L872.0,634.58 L872.5,633.54 L873.0,632.41 L873.5,631.19 L874.0,629.86 L874.5,628.42 L875.0,626.86 L875.5,625.17 L876.0,623.34 L876.5,621.37 L877.0,619.25 L877.5,616.97 L878.0,614.53 L878.5,611.93 L879.0,609.17 L879.5,606.27 L880.0,603.24 L880.5,600.11 L881.0,596.92 L881.5,593.72 L882.0,590.58 L882.5,587.57 L883.0,584.79 L883.5,582.33 L884.0,580.29 L884.5,578.76 L885.0,577.82 L885.5,577.50 L886.0,577.83 L886.5,578.79 L887.0,580.33 L887.5,582.38 L888.0,584.85 L888.5,587.65 L889.0,590.67 L889.5,593.83 L890.0,597.04 L890.5,600.24 L891.0,603.39 L891.5,606.43 L892.0,609.35 L892.5,612.12 L893.0,614.73 L893.5,617.19 L894.0,619.48 L894.5,621.61 L895.0,623.60 L895.5,625.44 L896.0,627.14 L896.5,628.71 L897.0,630.17 L897.5,631.51 L898.0,632.75 L898.5,633.89 L899.0,634.95 L899.5,635.92 L900.0,636.82 L900.5,637.66 L901.0,638.43 L901.5,639.14 L902.0,639.80 L902.5,640.42 L903.0,640.99 L903.5,641.52 L904.0,642.01 L904.5,642.48 L905.0,642.91 L905.5,643.31 L906.0,643.69 L906.5,644.05 L907.0,644.38 L907.5,644.69 L908.0,644.99 L908.5,645.27 L909.0,645.53 L909.5,645.78 L910.0,646.02 L910.5,646.24 L911.0,646.45 L911.5,646.65 L912.0,646.84 L912.5,647.02 L913.0,647.20 L913.5,647.36 L914.0,647.52 L914.5,647.67 L915.0,647.81 L915.5,647.95 L916.0,648.08 L916.5,648.20 L917.0,648.32 L917.5,648.43 L918.0,648.54 L918.5,648.65 L919.0,648.75 L919.5,648.85 L920.0,648.94 L920.5,649.03 L921.0,649.11 L921.5,649.20 L922.0,649.28 L922.5,649.35 L923.0,649.43 L923.5,649.50 L924.0,649.57 L924.5,649.63 L925.0,649.70 L925.5,649.76 L926.0,649.82 L926.5,649.88 L927.0,649.93 L927.5,649.99 L928.0,650.04 L928.5,650.09 L929.0,650.14 L929.5,650.18 L930.0,650.23 L930.5,650.27 L931.0,650.32 L931.5,650.36 L932.0,650.40 L932.5,650.44 L933.0,650.48 L933.5,650.52 L934.0,650.55 L934.5,650.59 L935.0,650.62 L935.5,650.65 L936.0,650.69 L936.5,650.72 L937.0,650.75 L937.5,650.78 L938.0,650.81 L938.5,650.84 L939.0,650.86 L939.5,650.89 L940.0,650.92 L940.5,650.94 L941.0,650.97 L941.5,650.99 L942.0,651.02 L942.5,651.04 L943.0,651.06 L943.5,651.08 L944.0,651.11 L944.5,651.13 L945.0,651.15 L945.5,651.17 L946.0,651.19 L946.5,651.21 L947.0,651.22 L947.5,651.24 L948.0,651.26 L948.5,651.28 L949.0,651.30 L949.5,651.31 L950.0,651.33 L950.5,651.35 L951.0,651.36 L951.5,651.38 L952.0,651.39 L952.5,651.41 L953.0,651.42 L953.5,651.44 L954.0,651.45 L954.5,651.46 L955.0,651.48 L955.5,651.49 L956.0,651.50 L956.5,651.52 L957.0,651.53 L957.5,651.54 L958.0,651.55 L958.5,651.57 L959.0,651.58 L959.5,651.59 L960.0,651.60 L960.5,651.61 L961.0,651.62 L961.5,651.63 L962.0,651.64 L962.5,651.65 L963.0,651.66 L963.5,651.67 L964.0,651.68 L964.5,651.69 L965.0,651.70 L965.5,651.71 L966.0,651.72 L966.5,651.73 L967.0,651.74 L967.5,651.75 L968.0,651.76 L968.5,651.77 L969.0,651.77 L969.5,651.78 L970.0,651.79 L970.5,651.80 L971.0,651.81 L971.5,651.81 L972.0,651.82 L972.5,651.83 L973.0,651.84 L973.5,651.84 L974.0,651.85 L974.5,651.86 L975.0,651.86 L975.5,651.87 L976.0,651.88 L976.5,651.88 L977.0,651.89 L977.5,651.90 L978.0,651.90 L978.5,651.91 L979.0,651.92 L979.5,651.92 L980.0,651.93 L980.5,651.94 L981.0,651.94 L981.5,651.95 L982.0,651.95 L982.5,651.96 L983.0,651.96 L983.5,651.97 L984.0,651.97 L984.5,651.98 L985.0,651.99 L985.5,651.99 L986.0,652.00 L986.5,652.00 L987.0,652.01 L987.5,652.01 L988.0,652.02 L988.5,652.02 L989.0,652.03 L989.5,652.03 L990.0,652.03 L990.5,652.04 L991.0,652.04 L991.5,652.05 L992.0,652.05 L992.5,652.06 L993.0,652.06 L993.5,652.07 L994.0,652.07 L994.5,652.07 L995.0,652.08 L995.5,652.08 L996.0,652.09 L996.5,652.09 L997.0,652.09 L997.5,652.10 L998.0,652.10 L998.5,652.11 L999.0,652.11 L999.5,652.11 L1000.0,652.12 L1000.5,652.12 L1001.0,652.12 L1001.5,652.13 L1002.0,652.13 L1002.5,652.14 L1003.0,652.14 L1003.5,652.14 L1004.0,652.15 L1004.5,652.15 L1005.0,652.15 L1005.5,652.16 L1006.0,652.16 L1006.5,652.16 L1007.0,652.17 L1007.5,652.17 L1008.0,652.17 L1008.5,652.18 L1009.0,652.18 L1009.5,652.18 L1010.0,652.18 L1010.5,652.19 L1011.0,652.19 L1011.5,652.19 L1012.0,652.20 L1012.5,652.20 L1013.0,652.20 L1013.5,652.20 L1014.0,652.21 L1014.5,652.21 L1015.0,652.21 L1015.5,652.22 L1016.0,652.22 L1016.5,652.22 L1017.0,652.22 L1017.5,652.23 L1018.0,652.23 L1018.5,652.23 L1019.0,652.23 L1019.5,652.24 L1020.0,652.24 L1020.5,652.24 L1021.0,652.24 L1021.5,652.25 L1022.0,652.25 L1022.5,652.25 L1023.0,652.25 L1023.5,652.26 L1024.0,652.26 L1024.5,652.26 L1025.0,652.26 L1025.5,652.26 L1026.0,652.27 L1026.5,652.27 L1027.0,652.27 L1027.5,652.27 L1028.0,652.28 L1028.5,652.28 L1029.0,652.28 L1029.5,652.28 L1030.0,652.28 L1030.5,652.29 L1031.0,652.29 L1031.5,652.29 L1032.0,652.29 L1032.5,652.29 L1033.0,652.30 L1033.5,652.30 L1034.0,652.30 L1034.5,652.30 L1035.0,652.30 L1035.5,652.31 L1036.0,652.31 L1036.5,652.31 L1037.0,652.31 L1037.5,652.31 L1038.0,652.32 L1038.5,652.32 L1039.0,652.32 L1039.5,652.32 L1040.0,652.32 L1040.5,652.32 L1041.0,652.33 L1041.5,652.33 L1042.0,652.33 L1042.5,652.33 L1043.0,652.33 L1043.5,652.33 L1044.0,652.34 L1044.5,652.34 L1045.0,652.34 L1045.5,652.34 L1046.0,652.34 L1046.5,652.34 L1047.0,652.35 L1047.5,652.35 L1048.0,652.35 L1048.5,652.35 L1049.0,652.35 L1049.5,652.35 L1050.0,652.36 L1050.5,652.36 L1051.0,652.36 L1051.5,652.36 L1052.0,652.36 L1052.5,652.36 L1053.0,652.36 L1053.5,652.37 L1054.0,652.37 L1054.5,652.37 L1055.0,652.37 L1055.5,652.37 L1056.0,652.37 L1056.5,652.37 L1057.0,652.38 L1057.5,652.38 L1058.0,652.38 L1058.5,652.38 L1059.0,652.38 L1059.5,652.38 L1060.0,652.38 L1060.5,652.39 L1061.0,652.39 L1061.5,652.39 L1062.0,652.39 L1062.5,652.39 L1063.0,652.39 L1063.5,652.39 L1064.0,652.39 L1064.5,652.40 L1065.0,652.40 L1065.5,652.40 L1066.0,652.40 L1066.5,652.40 L1067.0,652.40 L1067.5,652.40 L1068.0,652.40 L1068.5,652.41 L1069.0,652.41 L1069.5,652.41 L1070.0,652.41 L1070.5,652.41 L1071.0,652.41 L1071.5,652.41 L1072.0,652.41 L1072.5,652.41 L1073.0,652.42 L1073.5,652.42 L1074.0,652.42 L1074.5,652.42 L1075.0,652.42 L1075.5,652.42 L1076.0,652.42 L1076.5,652.42 L1077.0,652.42 L1077.5,652.43 L1078.0,652.43 L1078.5,652.43 L1079.0,652.43 L1079.5,652.43 L1080.0,652.43 L1080.5,652.43 L1081.0,652.43 L1081.5,652.43 L1082.0,652.43 L1082.5,652.44 L1083.0,652.44 L1083.5,652.44 L1084.0,652.44 L1084.5,652.44 L1085.0,652.44 L1085.5,652.44 L1086.0,652.44 L1086.5,652.44 L1087.0,652.44 L1087.5,652.44 L1088.0,652.45 L1088.5,652.45 L1089.0,652.45 L1089.5,652.45 L1090.0,652.45 L1090.5,652.45 L1091.0,652.45 L1091.5,652.45 L1092.0,652.45 L1092.5,652.45 L1093.0,652.45 L1093.5,652.46 L1094.0,652.46 L1094.5,652.46 L1095.0,652.46 L1095.5,652.46 L1096.0,652.46 L1096.5,652.46 L1097.0,652.46 L1097.5,652.46 L1098.0,652.46 L1098.5,652.46 L1099.0,652.46 L1099.5,652.47 L1100.0,652.47 L1100.5,652.47 L1101.0,652.47 L1101.5,652.47 L1102.0,652.47 L1102.5,652.47 L1103.0,652.47 L1103.5,652.47 L1104.0,652.47 L1104.5,652.47 L1105.0,652.47 L1105.5,652.48 L1106.0,652.48 L1106.5,652.48 L1107.0,652.48 L1107.5,652.48 L1108.0,652.48 L1108.5,652.48 L1109.0,652.48 L1109.5,652.48 L1110.0,652.48 L1110.5,652.48 L1111.0,652.48 L1111.5,652.48 L1112.0,652.48 L1112.5,652.49 L1113.0,652.49 L1113.5,652.49 L1114.0,652.49 L1114.5,652.49 L1115.0,652.49 L1115.5,652.49 L1116.0,652.49 L1116.5,652.49 L1117.0,652.49 L1117.5,652.49 L1118.0,652.49 L1118.5,652.49 L1119.0,652.49 L1119.5,652.49 L1120.0,652.50 L1120.5,652.50 L1121.0,652.50 L1121.5,652.50 L1122.0,652.50 L1122.5,652.50 L1123.0,652.50 L1123.5,652.50 L1124.0,652.50 L1124.5,652.50 L1125.0,652.50 L1125.5,652.50 L1126.0,652.50 L1126.5,652.50 L1127.0,652.50 L1127.5,652.50 L1128.0,652.51 L1128.5,652.51 L1129.0,652.51 L1129.5,652.51 L1130.0,652.51 L1130.5,652.51 L1131.0,652.51 L1131.5,652.51 L1132.0,652.51 L1132.5,652.51 L1133.0,652.51 L1133.5,652.51 L1134.0,652.51 L1134.5,652.51 L1135.0,652.51 L1135.5,652.51 L1136.0,652.51 L1136.5,652.52 L1137.0,652.52 L1137.5,652.52 L1138.0,652.52 L1138.5,652.52 L1139.0,652.52 L1139.5,652.52 L1140.0,652.52 L1140.5,652.52 L1141.0,652.52 L1141.5,652.52 L1142.0,652.52 L1142.5,652.52 L1143.0,652.52 L1143.5,652.52 L1144.0,652.52 L1144.5,652.52 L1145.0,652.52 L1145.5,652.52 L1146.0,652.53 L1146.5,652.53 L1147.0,652.53 L1147.5,652.53 L1148.0,652.53 L1148.5,652.53 L1149.0,652.53 L1149.5,652.53 L1150.0,652.53 L1150.5,652.53 L1151.0,652.53 L1151.5,652.53 L1152.0,652.53 L1152.5,652.53 L1153.0,652.53 L1153.5,652.53 L1154.0,652.53 L1154.5,652.53 L1155.0,652.53 L1155.5,652.53 L1156.0,652.54 L1156.5,652.54 L1157.0,652.54 L1157.5,652.54 L1158.0,652.54 L1158.5,652.54 L1159.0,652.54 L1159.5,652.54 L1160.0,652.54 L1160.5,652.54 L1161.0,652.54 L1161.5,652.54 L1162.0,652.54 L1162.5,652.54 L1163.0,652.54 L1163.5,652.54 L1164.0,652.54 L1164.5,652.54 L1165.0,652.54 L1165.5,652.54 L1166.0,652.54 L1166.5,652.54 L1167.0,652.54 L1167.5,652.55 L1168.0,652.55 L1168.5,652.55 L1169.0,652.55 L1169.5,652.55 L1170.0,652.55 L1170.5,652.55 L1171.0,652.55 L1171.5,652.55 L1172.0,652.55 L1172.5,652.55 L1173.0,652.55 L1173.5,652.55 L1174.0,652.55 L1174.5,652.55 L1175.0,652.55 L1175.5,652.55 L1176.0,652.55 L1176.5,652.55 L1177.0,652.55 L1177.5,652.55 L1178.0,652.55 L1178.5,652.55 L1179.0,652.55 L1179.5,652.55 L1180.0,652.56 L1180.5,652.56 L1181.0,652.56 L1181.5,652.56 L1182.0,652.56 L1182.5,652.56 L1183.0,652.56 L1183.5,652.56 L1184.0,652.56 L1184.5,652.56 L1185.0,652.56 L1185.5,652.56 L1186.0,652.56 L1186.5,652.56 L1187.0,652.56 L1187.5,652.56 L1188.0,652.56 L1188.5,652.56 L1189.0,652.56 L1189.5,652.56 L1190.0,652.56 L1190.5,652.56 L1191.0,652.56 L1191.5,652.56 L1192.0,652.56 L1192.5,652.56 L1193.0,652.56"/>
<path d="M110.0,996.48 L110.5,996.48 L111.0,996.48 L111.5,996.48 L112.0,996.48 L112.5,996.48 L113.0,996.48 L113.5,996.48 L114.0,996.48 L114.5,996.48 L115.0,996.48 L115.5,996.48 L116.0,996.48 L116.5,996.48 L117.0,996.48 L117.5,996.48 L118.0,996.48 L118.5,996.48 L119.0,996.48 L119.5,996.48 L120.0,996.48 L120.5,996.48 L121.0,996.48 L121.5,996.48 L122.0,996.48 L122.5,996.48 L123.0,996.48 L123.5,996.48 L124.0,996.48 L124.5,996.48 L125.0,996.48 L125.5,996.48 L126.0,996.48 L126.5,996.48 L127.0,996.48 L127.5,996.48 L128.0,996.48 L128.5,996.48 L129.0,996.48 L129.5,996.48 L130.0,996.48 L130.5,996.48 L131.0,996.48 L131.5,996.48 L132.0,996.48 L132.5,996.48 L133.0,996.48 L133.5,996.48 L134.0,996.48 L134.5,996.47 L135.0,996.47 L135.5,996.47 L136.0,996.47 L136.5,996.47 L137.0,996.47 L137.5,996.47 L138.0,996.47 L138.5,996.47 L139.0,996.47 L139.5,996.47 L140.0,996.47 L140.5,996.47 L141.0,996.47 L141.5,996.47 L142.0,996.47 L142.5,996.47 L143.0,996.47 L143.5,996.47 L144.0,996.47 L144.5,996.47 L145.0,996.47 L145.5,996.47 L146.0,996.47 L146.5,996.47 L147.0,996.47 L147.5,996.47 L148.0,996.47 L148.5,996.47 L149.0,996.47 L149.5,996.47 L150.0,996.47 L150.5,996.47 L151.0,996.47 L151.5,996.47 L152.0,996.47 L152.5,996.47 L153.0,996.47 L153.5,996.47 L154.0,996.47 L154.5,996.47 L155.0,996.47 L155.5,996.47 L156.0,996.47 L156.5,996.47 L157.0,996.47 L157.5,996.47 L158.0,996.47 L158.5,996.47 L159.0,996.47 L159.5,996.47 L160.0,996.47 L160.5,996.47 L161.0,996.47 L161.5,996.47 L162.0,996.47 L162.5,996.47 L163.0,996.47 L163.5,996.47 L164.0,996.47 L164.5,996.47 L165.0,996.47 L165.5,996.47 L166.0,996.47 L166.5,996.47 L167.0,996.47 L167.5,996.47 L168.0,996.47 L168.5,996.47 L169.0,996.47 L169.5,996.47 L170.0,996.47 L170.5,996.47 L171.0,996.46 L171.5,996.46 L172.0,996.46 L172.5,996.46 L173.0,996.46 L173.5,996.46 L174.0,996.46 L174.5,996.46 L175.0,996.46 L175.5,996.46 L176.0,996.46 L176.5,996.46 L177.0,996.46 L177.5,996.46 L178.0,996.46 L178.5,996.46 L179.0,996.46 L179.5,996.46 L180.0,996.46 L180.5,996.46 L181.0,996.46 L181.5,996.46 L182.0,996.46 L182.5,996.46 L183.0,996.46 L183.5,996.46 L184.0,996.46 L184.5,996.46 L185.0,996.46 L185.5,996.46 L186.0,996.46 L186.5,996.46 L187.0,996.46 L187.5,996.46 L188.0,996.46 L188.5,996.46 L189.0,996.46 L189.5,996.46 L190.0,996.46 L190.5,996.46 L191.0,996.46 L191.5,996.46 L192.0,996.46 L192.5,996.46 L193.0,996.46 L193.5,996.46 L194.0,996.46 L194.5,996.46 L195.0,996.46 L195.5,996.46 L196.0,996.46 L196.5,996.46 L197.0,996.46 L197.5,996.46 L198.0,996.46 L198.5,996.46 L199.0,996.46 L199.5,996.46 L200.0,996.46 L200.5,996.46 L201.0,996.46 L201.5,996.45 L202.0,996.45 L202.5,996.45 L203.0,996.45 L203.5,996.45 L204.0,996.45 L204.5,996.45 L205.0,996.45 L205.5,996.45 L206.0,996.45 L206.5,996.45 L207.0,996.45 L207.5,996.45 L208.0,996.45 L208.5,996.45 L209.0,996.45 L209.5,996.45 L210.0,996.45 L210.5,996.45 L211.0,996.45 L211.5,996.45 L212.0,996.45 L212.5,996.45 L213.0,996.45 L213.5,996.45 L214.0,996.45 L214.5,996.45 L215.0,996.45 L215.5,996.45 L216.0,996.45 L216.5,996.45 L217.0,996.45 L217.5,996.45 L218.0,996.45 L218.5,996.45 L219.0,996.45 L219.5,996.45 L220.0,996.45 L220.5,996.45 L221.0,996.45 L221.5,996.45 L222.0,996.45 L222.5,996.45 L223.0,996.45 L223.5,996.45 L224.0,996.45 L224.5,996.45 L225.0,996.45 L225.5,996.45 L226.0,996.45 L226.5,996.45 L227.0,996.45 L227.5,996.45 L228.0,996.44 L228.5,996.44 L229.0,996.44 L229.5,996.44 L230.0,996.44 L230.5,996.44 L231.0,996.44 L231.5,996.44 L232.0,996.44 L232.5,996.44 L233.0,996.44 L233.5,996.44 L234.0,996.44 L234.5,996.44 L235.0,996.44 L235.5,996.44 L236.0,996.44 L236.5,996.44 L237.0,996.44 L237.5,996.44 L238.0,996.44 L238.5,996.44 L239.0,996.44 L239.5,996.44 L240.0,996.44 L240.5,996.44 L241.0,996.44 L241.5,996.44 L242.0,996.44 L242.5,996.44 L243.0,996.44 L243.5,996.44 L244.0,996.44 L244.5,996.44 L245.0,996.44 L245.5,996.44 L246.0,996.44 L246.5,996.44 L247.0,996.44 L247.5,996.44 L248.0,996.44 L248.5,996.44 L249.0,996.44 L249.5,996.44 L250.0,996.44 L250.5,996.43 L251.0,996.43 L251.5,996.43 L252.0,996.43 L252.5,996.43 L253.0,996.43 L253.5,996.43 L254.0,996.43 L254.5,996.43 L255.0,996.43 L255.5,996.43 L256.0,996.43 L256.5,996.43 L257.0,996.43 L257.5,996.43 L258.0,996.43 L258.5,996.43 L259.0,996.43 L259.5,996.43 L260.0,996.43 L260.5,996.43 L261.0,996.43 L261.5,996.43 L262.0,996.43 L262.5,996.43 L263.0,996.43 L263.5,996.43 L264.0,996.43 L264.5,996.43 L265.0,996.43 L265.5,996.43 L266.0,996.43 L266.5,996.43 L267.0,996.43 L267.5,996.43 L268.0,996.43 L268.5,996.43 L269.0,996.43 L269.5,996.43 L270.0,996.43 L270.5,996.42 L271.0,996.42 L271.5,996.42 L272.0,996.42 L272.5,996.42 L273.0,996.42 L273.5,996.42 L274.0,996.42 L274.5,996.42 L275.0,996.42 L275.5,996.42 L276.0,996.42 L276.5,996.42 L277.0,996.42 L277.5,996.42 L278.0,996.42 L278.5,996.42 L279.0,996.42 L279.5,996.42 L280.0,996.42 L280.5,996.42 L281.0,996.42 L281.5,996.42 L282.0,996.42 L282.5,996.42 L283.0,996.42 L283.5,996.42 L284.0,996.42 L284.5,996.42 L285.0,996.42 L285.5,996.42 L286.0,996.42 L286.5,996.42 L287.0,996.42 L287.5,996.42 L288.0,996.41 L288.5,996.41 L289.0,996.41 L289.5,996.41 L290.0,996.41 L290.5,996.41 L291.0,996.41 L291.5,996.41 L292.0,996.41 L292.5,996.41 L293.0,996.41 L293.5,996.41 L294.0,996.41 L294.5,996.41 L295.0,996.41 L295.5,996.41 L296.0,996.41 L296.5,996.41 L297.0,996.41 L297.5,996.41 L298.0,996.41 L298.5,996.41 L299.0,996.41 L299.5,996.41 L300.0,996.41 L300.5,996.41 L301.0,996.41 L301.5,996.41 L302.0,996.41 L302.5,996.41 L303.0,996.41 L303.5,996.41 L304.0,996.40 L304.5,996.40 L305.0,996.40 L305.5,996.40 L306.0,996.40 L306.5,996.40 L307.0,996.40 L307.5,996.40 L308.0,996.40 L308.5,996.40 L309.0,996.40 L309.5,996.40 L310.0,996.40 L310.5,996.40 L311.0,996.40 L311.5,996.40 L312.0,996.40 L312.5,996.40 L313.0,996.40 L313.5,996.40 L314.0,996.40 L314.5,996.40 L315.0,996.40 L315.5,996.40 L316.0,996.40 L316.5,996.40 L317.0,996.40 L317.5,996.40 L318.0,996.39 L318.5,996.39 L319.0,996.39 L319.5,996.39 L320.0,996.39 L320.5,996.39 L321.0,996.39 L321.5,996.39 L322.0,996.39 L322.5,996.39 L323.0,996.39 L323.5,996.39 L324.0,996.39 L324.5,996.39 L325.0,996.39 L325.5,996.39 L326.0,996.39 L326.5,996.39 L327.0,996.39 L327.5,996.39 L328.0,996.39 L328.5,996.39 L329.0,996.39 L329.5,996.39 L330.0,996.39 L330.5,996.39 L331.0,996.38 L331.5,996.38 L332.0,996.38 L332.5,996.38 L333.0,996.38 L333.5,996.38 L334.0,996.38 L334.5,996.38 L335.0,996.38 L335.5,996.38 L336.0,996.38 L336.5,996.38 L337.0,996.38 L337.5,996.38 L338.0,996.38 L338.5,996.38 L339.0,996.38 L339.5,996.38 L340.0,996.38 L340.5,996.38 L341.0,996.38 L341.5,996.38 L342.0,996.38 L342.5,996.37 L343.0,996.37 L343.5,996.37 L344.0,996.37 L344.5,996.37 L345.0,996.37 L345.5,996.37 L346.0,996.37 L346.5,996.37 L347.0,996.37 L347.5,996.37 L348.0,996.37 L348.5,996.37 L349.0,996.37 L349.5,996.37 L350.0,996.37 L350.5,996.37 L351.0,996.37 L351.5,996.37 L352.0,996.37 L352.5,996.37 L353.0,996.37 L353.5,996.36 L354.0,996.36 L354.5,996.36 L355.0,996.36 L355.5,996.36 L356.0,996.36 L356.5,996.36 L357.0,996.36 L357.5,996.36 L358.0,996.36 L358.5,996.36 L359.0,996.36 L359.5,996.36 L360.0,996.36 L360.5,996.36 L361.0,996.36 L361.5,996.36 L362.0,996.36 L362.5,996.36 L363.0,996.36 L363.5,996.35 L364.0,996.35 L364.5,996.35 L365.0,996.35 L365.5,996.35 L366.0,996.35 L366.5,996.35 L367.0,996.35 L367.5,996.35 L368.0,996.35 L368.5,996.35 L369.0,996.35 L369.5,996.35 L370.0,996.35 L370.5,996.35 L371.0,996.35 L371.5,996.35 L372.0,996.35 L372.5,996.34 L373.0,996.34 L373.5,996.34 L374.0,996.34 L374.5,996.34 L375.0,996.34 L375.5,996.34 L376.0,996.34 L376.5,996.34 L377.0,996.34 L377.5,996.34 L378.0,996.34 L378.5,996.34 L379.0,996.34 L379.5,996.34 L380.0,996.34 L380.5,996.34 L381.0,996.33 L381.5,996.33 L382.0,996.33 L382.5,996.33 L383.0,996.33 L383.5,996.33 L384.0,996.33 L384.5,996.33 L385.0,996.33 L385.5,996.33 L386.0,996.33 L386.5,996.33 L387.0,996.33 L387.5,996.33 L388.0,996.33 L388.5,996.33 L389.0,996.32 L389.5,996.32 L390.0,996.32 L390.5,996.32 L391.0,996.32 L391.5,996.32 L392.0,996.32 L392.5,996.32 L393.0,996.32 L393.5,996.32 L394.0,996.32 L394.5,996.32 L395.0,996.32 L395.5,996.32 L396.0,996.32 L396.5,996.31 L397.0,996.31 L397.5,996.31 L398.0,996.31 L398.5,996.31 L399.0,996.31 L399.5,996.31 L400.0,996.31 L400.5,996.31 L401.0,996.31 L401.5,996.31 L402.0,996.31 L402.5,996.31 L403.0,996.31 L403.5,996.30 L404.0,996.30 L404.5,996.30 L405.0,996.30 L405.5,996.30 L406.0,996.30 L406.5,996.30 L407.0,996.30 L407.5,996.30 L408.0,996.30 L408.5,996.30 L409.0,996.30 L409.5,996.30 L410.0,996.29 L410.5,996.29 L411.0,996.29 L411.5,996.29 L412.0,996.29 L412.5,996.29 L413.0,996.29 L413.5,996.29 L414.0,996.29 L414.5,996.29 L415.0,996.29 L415.5,996.29 L416.0,996.29 L416.5,996.28 L417.0,996.28 L417.5,996.28 L418.0,996.28 L418.5,996.28 L419.0,996.28 L419.5,996.28 L420.0,996.28 L420.5,996.28 L421.0,996.28 L421.5,996.28 L422.0,996.27 L422.5,996.27 L423.0,996.27 L423.5,996.27 L424.0,996.27 L424.5,996.27 L425.0,996.27 L425.5,996.27 L426.0,996.27 L426.5,996.27 L427.0,996.27 L427.5,996.26 L428.0,996.26 L428.5,996.26 L429.0,996.26 L429.5,996.26 L430.0,996.26 L430.5,996.26 L431.0,996.26 L431.5,996.26 L432.0,996.26 L432.5,996.26 L433.0,996.25 L433.5,996.25 L434.0,996.25 L434.5,996.25 L435.0,996.25 L435.5,996.25 L436.0,996.25 L436.5,996.25 L437.0,996.25 L437.5,996.25 L438.0,996.24 L438.5,996.24 L439.0,996.24 L439.5,996.24 L440.0,996.24 L440.5,996.24 L441.0,996.24 L441.5,996.24 L442.0,996.24 L442.5,996.23 L443.0,996.23 L443.5,996.23 L444.0,996.23 L444.5,996.23 L445.0,996.23 L445.5,996.23 L446.0,996.23 L446.5,996.23 L447.0,996.22 L447.5,996.22 L448.0,996.22 L448.5,996.22 L449.0,996.22 L449.5,996.22 L450.0,996.22 L450.5,996.22 L451.0,996.22 L451.5,996.21 L452.0,996.21 L452.5,996.21 L453.0,996.21 L453.5,996.21 L454.0,996.21 L454.5,996.21 L455.0,996.21 L455.5,996.20 L456.0,996.20 L456.5,996.20 L457.0,996.20 L457.5,996.20 L458.0,996.20 L458.5,996.20 L459.0,996.20 L459.5,996.19 L460.0,996.19 L460.5,996.19 L461.0,996.19 L461.5,996.19 L462.0,996.19 L462.5,996.19 L463.0,996.19 L463.5,996.18 L464.0,996.18 L464.5,996.18 L465.0,996.18 L465.5,996.18 L466.0,996.18 L466.5,996.18 L467.0,996.17 L467.5,996.17 L468.0,996.17 L468.5,996.17 L469.0,996.17 L469.5,996.17 L470.0,996.17 L470.5,996.16 L471.0,996.16 L471.5,996.16 L472.0,996.16 L472.5,996.16 L473.0,996.16 L473.5,996.16 L474.0,996.15 L474.5,996.15 L475.0,996.15 L475.5,996.15 L476.0,996.15 L476.5,996.15 L477.0,996.14 L477.5,996.14 L478.0,996.14 L478.5,996.14 L479.0,996.14 L479.5,996.14 L480.0,996.13 L480.5,996.13 L481.0,996.13 L481.5,996.13 L482.0,996.13 L482.5,996.13 L483.0,996.12 L483.5,996.12 L484.0,996.12 L484.5,996.12 L485.0,996.12 L485.5,996.12 L486.0,996.11 L486.5,996.11 L487.0,996.11 L487.5,996.11 L488.0,996.11 L488.5,996.10 L489.0,996.10 L489.5,996.10 L490.0,996.10 L490.5,996.10 L491.0,996.10 L491.5,996.09 L492.0,996.09 L492.5,996.09 L493.0,996.09 L493.5,996.09 L494.0,996.08 L494.5,996.08 L495.0,996.08 L495.5,996.08 L496.0,996.08 L496.5,996.07 L497.0,996.07 L497.5,996.07 L498.0,996.07 L498.5,996.07 L499.0,996.06 L499.5,996.06 L500.0,996.06 L500.5,996.06 L501.0,996.06 L501.5,996.05 L502.0,996.05 L502.5,996.05 L503.0,996.05 L503.5,996.04 L504.0,996.04 L504.5,996.04 L505.0,996.04 L505.5,996.04 L506.0,996.03 L506.5,996.03 L507.0,996.03 L507.5,996.03 L508.0,996.02 L508.5,996.02 L509.0,996.02 L509.5,996.02 L510.0,996.01 L510.5,996.01 L511.0,996.01 L511.5,996.01 L512.0,996.00 L512.5,996.00 L513.0,996.00 L513.5,996.00 L514.0,995.99 L514.5,995.99 L515.0,995.99 L515.5,995.99 L516.0,995.98 L516.5,995.98 L517.0,995.98 L517.5,995.98 L518.0,995.97 L518.5,995.97 L519.0,995.97 L519.5,995.97 L520.0,995.96 L520.5,995.96 L521.0,995.96 L521.5,995.95 L522.0,995.95 L522.5,995.95 L523.0,995.95 L523.5,995.94 L524.0,995.94 L524.5,995.94 L525.0,995.93 L525.5,995.93 L526.0,995.93 L526.5,995.92 L527.0,995.92 L527.5,995.92 L528.0,995.92 L528.5,995.91 L529.0,995.91 L529.5,995.91 L530.0,995.90 L530.5,995.90 L531.0,995.90 L531.5,995.89 L532.0,995.89 L532.5,995.89 L533.0,995.88 L533.5,995.88 L534.0,995.88 L534.5,995.87 L535.0,995.87 L535.5,995.87 L536.0,995.86 L536.5,995.86 L537.0,995.85 L537.5,995.85 L538.0,995.85 L538.5,995.84 L539.0,995.84 L539.5,995.84 L540.0,995.83 L540.5,995.83 L541.0,995.82 L541.5,995.82 L542.0,995.82 L542.5,995.81 L543.0,995.81 L543.5,995.81 L544.0,995.80 L544.5,995.80 L545.0,995.79 L545.5,995.79 L546.0,995.78 L546.5,995.78 L547.0,995.78 L547.5,995.77 L548.0,995.77 L548.5,995.76 L549.0,995.76 L549.5,995.75 L550.0,995.75 L550.5,995.75 L551.0,995.74 L551.5,995.74 L552.0,995.73 L552.5,995.73 L553.0,995.72 L553.5,995.72 L554.0,995.71 L554.5,995.71 L555.0,995.70 L555.5,995.70 L556.0,995.69 L556.5,995.69 L557.0,995.68 L557.5,995.68 L558.0,995.67 L558.5,995.67 L559.0,995.66 L559.5,995.66 L560.0,995.65 L560.5,995.65 L561.0,995.64 L561.5,995.64 L562.0,995.63 L562.5,995.63 L563.0,995.62 L563.5,995.61 L564.0,995.61 L564.5,995.60 L565.0,995.60 L565.5,995.59 L566.0,995.59 L566.5,995.58 L567.0,995.57 L567.5,995.57 L568.0,995.56 L568.5,995.56 L569.0,995.55 L569.5,995.54 L570.0,995.54 L570.5,995.53 L571.0,995.52 L571.5,995.52 L572.0,995.51 L572.5,995.50 L573.0,995.50 L573.5,995.49 L574.0,995.48 L574.5,995.48 L575.0,995.47 L575.5,995.46 L576.0,995.45 L576.5,995.45 L577.0,995.44 L577.5,995.43 L578.0,995.43 L578.5,995.42 L579.0,995.41 L579.5,995.40 L580.0,995.39 L580.5,995.39 L581.0,995.38 L581.5,995.37 L582.0,995.36 L582.5,995.35 L583.0,995.35 L583.5,995.34 L584.0,995.33 L584.5,995.32 L585.0,995.31 L585.5,995.30 L586.0,995.29 L586.5,995.29 L587.0,995.28 L587.5,995.27 L588.0,995.26 L588.5,995.25 L589.0,995.24 L589.5,995.23 L590.0,995.22 L590.5,995.21 L591.0,995.20 L591.5,995.19 L592.0,995.18 L592.5,995.17 L593.0,995.16 L593.5,995.15 L594.0,995.14 L594.5,995.13 L595.0,995.12 L595.5,995.11 L596.0,995.10 L596.5,995.08 L597.0,995.07 L597.5,995.06 L598.0,995.05 L598.5,995.04 L599.0,995.03 L599.5,995.01 L600.0,995.00 L600.5,994.99 L601.0,994.98 L601.5,994.96 L602.0,994.95 L602.5,994.94 L603.0,994.93 L603.5,994.91 L604.0,994.90 L604.5,994.88 L605.0,994.87 L605.5,994.86 L606.0,994.84 L606.5,994.83 L607.0,994.81 L607.5,994.80 L608.0,994.78 L608.5,994.77 L609.0,994.75 L609.5,994.74 L610.0,994.72 L610.5,994.71 L611.0,994.69 L611.5,994.67 L612.0,994.66 L612.5,994.64 L613.0,994.62 L613.5,994.61 L614.0,994.59 L614.5,994.57 L615.0,994.55 L615.5,994.53 L616.0,994.52 L616.5,994.50 L617.0,994.48 L617.5,994.46 L618.0,994.44 L618.5,994.42 L619.0,994.40 L619.5,994.38 L620.0,994.36 L620.5,994.34 L621.0,994.32 L621.5,994.29 L622.0,994.27 L622.5,994.25 L623.0,994.23 L623.5,994.20 L624.0,994.18 L624.5,994.16 L625.0,994.13 L625.5,994.11 L626.0,994.08 L626.5,994.06 L627.0,994.03 L627.5,994.00 L628.0,993.98 L628.5,993.95 L629.0,993.92 L629.5,993.90 L630.0,993.87 L630.5,993.84 L631.0,993.81 L631.5,993.78 L632.0,993.75 L632.5,993.72 L633.0,993.69 L633.5,993.65 L634.0,993.62 L634.5,993.59 L635.0,993.56 L635.5,993.52 L636.0,993.49 L636.5,993.45 L637.0,993.41 L637.5,993.38 L638.0,993.34 L638.5,993.30 L639.0,993.26 L639.5,993.22 L640.0,993.18 L640.5,993.14 L641.0,993.10 L641.5,993.06 L642.0,993.01 L642.5,992.97 L643.0,992.92 L643.5,992.88 L644.0,992.83 L644.5,992.78 L645.0,992.73 L645.5,992.68 L646.0,992.63 L646.5,992.58 L647.0,992.53 L647.5,992.47 L648.0,992.42 L648.5,992.36 L649.0,992.30 L649.5,992.25 L650.0,992.19 L650.5,992.12 L651.0,992.06 L651.5,992.00 L652.0,991.93 L652.5,991.86 L653.0,991.80 L653.5,991.72 L654.0,991.65 L654.5,991.58 L655.0,991.50 L655.5,991.43 L656.0,991.35 L656.5,991.27 L657.0,991.18 L657.5,991.10 L658.0,991.01 L658.5,990.92 L659.0,990.83 L659.5,990.74 L660.0,990.64 L660.5,990.54 L661.0,990.44 L661.5,990.34 L662.0,990.23 L662.5,990.12 L663.0,990.01 L663.5,989.89 L664.0,989.78 L664.5,989.65 L665.0,989.53 L665.5,989.40 L666.0,989.27 L666.5,989.13 L667.0,988.99 L667.5,988.84 L668.0,988.70 L668.5,988.54 L669.0,988.38 L669.5,988.22 L670.0,988.05 L670.5,987.88 L671.0,987.70 L671.5,987.51 L672.0,987.32 L672.5,987.13 L673.0,986.92 L673.5,986.71 L674.0,986.49 L674.5,986.27 L675.0,986.03 L675.5,985.79 L676.0,985.54 L676.5,985.28 L677.0,985.01 L677.5,984.74 L678.0,984.45 L678.5,984.15 L679.0,983.83 L679.5,983.51 L680.0,983.17 L680.5,982.82 L681.0,982.46 L681.5,982.08 L682.0,981.68 L682.5,981.27 L683.0,980.84 L683.5,980.39 L684.0,979.92 L684.5,979.43 L685.0,978.91 L685.5,978.38 L686.0,977.81 L686.5,977.23 L687.0,976.61 L687.5,975.96 L688.0,975.28 L688.5,974.56 L689.0,973.81 L689.5,973.02 L690.0,972.18 L690.5,971.30 L691.0,970.37 L691.5,969.39 L692.0,968.35 L692.5,967.25 L693.0,966.08 L693.5,964.84 L694.0,963.52 L694.5,962.11 L695.0,960.62 L695.5,959.02 L696.0,957.31 L696.5,955.48 L697.0,953.52 L697.5,951.41 L698.0,949.15 L698.5,946.72 L699.0,944.10 L699.5,941.27 L700.0,938.22 L700.5,934.92 L701.0,931.35 L701.5,927.48 L702.0,923.30 L702.5,918.77 L703.0,913.86 L703.5,908.55 L704.0,902.79 L704.5,896.56 L705.0,889.82 L705.5,882.55 L706.0,874.71 L706.5,866.27 L707.0,857.23 L707.5,847.56 L708.0,837.28 L708.5,826.40 L709.0,814.98 L709.5,803.09 L710.0,790.86 L710.5,778.45 L711.0,766.07 L711.5,753.99 L712.0,742.54 L712.5,732.07 L713.0,722.95 L713.5,715.56 L714.0,710.23 L714.5,707.21 L714.9,706.55 L715.0,706.64 L715.5,708.56 L716.0,712.86 L716.5,719.33 L717.0,727.66 L717.5,737.50 L718.0,748.47 L718.5,760.20 L719.0,772.35 L719.5,784.64 L720.0,796.83 L720.5,808.72 L721.0,820.20 L721.5,831.16 L722.0,841.53 L722.5,851.30 L723.0,860.44 L723.5,868.96 L724.0,876.88 L724.5,884.22 L725.0,891.01 L725.5,897.27 L726.0,903.04 L726.5,908.36 L727.0,913.25 L727.5,917.75 L728.0,921.88 L728.5,925.68 L729.0,929.17 L729.5,932.38 L730.0,935.32 L730.5,938.03 L731.0,940.52 L731.5,942.80 L732.0,944.90 L732.5,946.83 L733.0,948.60 L733.5,950.23 L734.0,951.72 L734.5,953.09 L735.0,954.35 L735.5,955.50 L736.0,956.55 L736.5,957.51 L737.0,958.38 L737.5,959.17 L738.0,959.88 L738.5,960.52 L739.0,961.08 L739.5,961.58 L740.0,962.02 L740.5,962.39 L741.0,962.70 L741.5,962.95 L742.0,963.14 L742.5,963.27 L743.0,963.35 L743.5,963.37 L744.0,963.32 L744.5,963.22 L745.0,963.06 L745.5,962.84 L746.0,962.55 L746.5,962.20 L747.0,961.78 L747.5,961.29 L748.0,960.72 L748.5,960.07 L749.0,959.34 L749.5,958.52 L750.0,957.60 L750.5,956.58 L751.0,955.46 L751.5,954.21 L752.0,952.83 L752.5,951.31 L753.0,949.65 L753.5,947.82 L754.0,945.81 L754.5,943.61 L755.0,941.20 L755.5,938.56 L756.0,935.68 L756.5,932.53 L757.0,929.09 L757.5,925.34 L758.0,921.26 L758.5,916.83 L759.0,912.02 L759.5,906.81 L760.0,901.19 L760.5,895.13 L761.0,888.63 L761.5,881.69 L762.0,874.32 L762.5,866.56 L763.0,858.44 L763.5,850.05 L764.0,841.49 L764.5,832.90 L765.0,824.46 L765.5,816.39 L766.0,808.93 L766.5,802.34 L767.0,796.89 L767.5,792.82 L768.0,790.33 L768.5,789.55 L769.0,790.52 L769.5,793.20 L770.0,797.45 L770.5,803.09 L771.0,809.87 L771.5,817.52 L772.0,825.78 L772.5,834.41 L773.0,843.20 L773.5,851.95 L774.0,860.54 L774.5,868.86 L775.0,876.83 L775.5,884.40 L776.0,891.55 L776.5,898.26 L777.0,904.53 L777.5,910.37 L778.0,915.80 L778.5,920.84 L779.0,925.50 L779.5,929.81 L780.0,933.80 L780.5,937.48 L781.0,940.88 L781.5,944.02 L782.0,946.92 L782.5,949.60 L783.0,952.08 L783.5,954.37 L784.0,956.49 L784.5,958.46 L785.0,960.29 L785.5,961.99 L786.0,963.56 L786.5,965.03 L787.0,966.40 L787.5,967.68 L788.0,968.88 L788.5,970.00 L789.0,971.05 L789.5,972.04 L790.0,972.97 L790.5,973.84 L791.0,974.67 L791.5,975.44 L792.0,976.18 L792.5,976.87 L793.0,977.53 L793.5,978.15 L794.0,978.75 L794.5,979.31 L795.0,979.84 L795.5,980.35 L796.0,980.83 L796.5,981.30 L797.0,981.74 L797.5,982.16 L798.0,982.56 L798.5,982.94 L799.0,983.31 L799.5,983.66 L800.0,983.99 L800.5,984.31 L801.0,984.62 L801.5,984.92 L802.0,985.20 L802.5,985.47 L803.0,985.74 L803.5,985.99 L804.0,986.23 L804.5,986.46 L805.0,986.69 L805.5,986.90 L806.0,987.11 L806.5,987.31 L807.0,987.50 L807.5,987.69 L808.0,987.87 L808.5,988.04 L809.0,988.21 L809.5,988.37 L810.0,988.53 L810.5,988.68 L811.0,988.83 L811.5,988.97 L812.0,989.11 L812.5,989.24 L813.0,989.37 L813.5,989.49 L814.0,989.61 L814.5,989.73 L815.0,989.84 L815.5,989.95 L816.0,990.06 L816.5,990.16 L817.0,990.26 L817.5,990.36 L818.0,990.45 L818.5,990.54 L819.0,990.63 L819.5,990.72 L820.0,990.80 L820.5,990.88 L821.0,990.96 L821.5,991.03 L822.0,991.11 L822.5,991.18 L823.0,991.25 L823.5,991.31 L824.0,991.38 L824.5,991.44 L825.0,991.51 L825.5,991.56 L826.0,991.62 L826.5,991.68 L827.0,991.73 L827.5,991.79 L828.0,991.84 L828.5,991.89 L829.0,991.93 L829.5,991.98 L830.0,992.03 L830.5,992.07 L831.0,992.11 L831.5,992.15 L832.0,992.19 L832.5,992.23 L833.0,992.27 L833.5,992.30 L834.0,992.33 L834.5,992.37 L835.0,992.40 L835.5,992.43 L836.0,992.46 L836.5,992.48 L837.0,992.51 L837.5,992.54 L838.0,992.56 L838.5,992.58 L839.0,992.60 L839.5,992.62 L840.0,992.64 L840.5,992.66 L841.0,992.67 L841.5,992.69 L842.0,992.70 L842.5,992.71 L843.0,992.72 L843.5,992.73 L844.0,992.74 L844.5,992.75 L845.0,992.75 L845.5,992.76 L846.0,992.76 L846.5,992.76 L847.0,992.76 L847.5,992.76 L848.0,992.75 L848.5,992.75 L849.0,992.74 L849.5,992.73 L850.0,992.72 L850.5,992.70 L851.0,992.69 L851.5,992.67 L852.0,992.65 L852.5,992.63 L853.0,992.61 L853.5,992.58 L854.0,992.55 L854.5,992.52 L855.0,992.49 L855.5,992.45 L856.0,992.41 L856.5,992.36 L857.0,992.32 L857.5,992.27 L858.0,992.21 L858.5,992.15 L859.0,992.09 L859.5,992.02 L860.0,991.95 L860.5,991.87 L861.0,991.78 L861.5,991.69 L862.0,991.60 L862.5,991.49 L863.0,991.38 L863.5,991.26 L864.0,991.14 L864.5,991.00 L865.0,990.85 L865.5,990.69 L866.0,990.52 L866.5,990.34 L867.0,990.14 L867.5,989.93 L868.0,989.69 L868.5,989.44 L869.0,989.17 L869.5,988.88 L870.0,988.56 L870.5,988.22 L871.0,987.85 L871.5,987.44 L872.0,987.00 L872.5,986.53 L873.0,986.01 L873.5,985.44 L874.0,984.83 L874.5,984.17 L875.0,983.45 L875.5,982.67 L876.0,981.82 L876.5,980.91 L877.0,979.93 L877.5,978.87 L878.0,977.74 L878.5,976.53 L879.0,975.25 L879.5,973.91 L880.0,972.50 L880.5,971.04 L881.0,969.56 L881.5,968.07 L882.0,966.61 L882.5,965.21 L883.0,963.92 L883.5,962.78 L884.0,961.83 L884.5,961.13 L885.0,960.69 L885.5,960.55 L886.0,960.71 L886.5,961.17 L887.0,961.89 L887.5,962.86 L888.0,964.02 L888.5,965.33 L889.0,966.75 L889.5,968.23 L890.0,969.73 L890.5,971.24 L891.0,972.71 L891.5,974.14 L892.0,975.51 L892.5,976.81 L893.0,978.03 L893.5,979.18 L894.0,980.26 L894.5,981.26 L895.0,982.20 L895.5,983.06 L896.0,983.86 L896.5,984.60 L897.0,985.29 L897.5,985.92 L898.0,986.50 L898.5,987.04 L899.0,987.54 L899.5,988.00 L900.0,988.42 L900.5,988.82 L901.0,989.18 L901.5,989.52 L902.0,989.84 L902.5,990.13 L903.0,990.40 L903.5,990.65 L904.0,990.89 L904.5,991.11 L905.0,991.31 L905.5,991.51 L906.0,991.69 L906.5,991.86 L907.0,992.02 L907.5,992.17 L908.0,992.31 L908.5,992.45 L909.0,992.57 L909.5,992.69 L910.0,992.81 L910.5,992.91 L911.0,993.02 L911.5,993.11 L912.0,993.21 L912.5,993.30 L913.0,993.38 L913.5,993.46 L914.0,993.54 L914.5,993.61 L915.0,993.68 L915.5,993.75 L916.0,993.81 L916.5,993.87 L917.0,993.93 L917.5,993.99 L918.0,994.05 L918.5,994.10 L919.0,994.15 L919.5,994.20 L920.0,994.24 L920.5,994.29 L921.0,994.33 L921.5,994.37 L922.0,994.41 L922.5,994.45 L923.0,994.49 L923.5,994.53 L924.0,994.56 L924.5,994.60 L925.0,994.63 L925.5,994.66 L926.0,994.69 L926.5,994.72 L927.0,994.75 L927.5,994.78 L928.0,994.80 L928.5,994.83 L929.0,994.86 L929.5,994.88 L930.0,994.91 L930.5,994.93 L931.0,994.95 L931.5,994.97 L932.0,995.00 L932.5,995.02 L933.0,995.04 L933.5,995.06 L934.0,995.08 L934.5,995.10 L935.0,995.11 L935.5,995.13 L936.0,995.15 L936.5,995.17 L937.0,995.18 L937.5,995.20 L938.0,995.22 L938.5,995.23 L939.0,995.25 L939.5,995.26 L940.0,995.28 L940.5,995.29 L941.0,995.31 L941.5,995.32 L942.0,995.33 L942.5,995.35 L943.0,995.36 L943.5,995.37 L944.0,995.38 L944.5,995.39 L945.0,995.41 L945.5,995.42 L946.0,995.43 L946.5,995.44 L947.0,995.45 L947.5,995.46 L948.0,995.47 L948.5,995.48 L949.0,995.49 L949.5,995.50 L950.0,995.51 L950.5,995.52 L951.0,995.53 L951.5,995.54 L952.0,995.55 L952.5,995.56 L953.0,995.57 L953.5,995.58 L954.0,995.58 L954.5,995.59 L955.0,995.60 L955.5,995.61 L956.0,995.62 L956.5,995.62 L957.0,995.63 L957.5,995.64 L958.0,995.65 L958.5,995.65 L959.0,995.66 L959.5,995.67 L960.0,995.68 L960.5,995.68 L961.0,995.69 L961.5,995.70 L962.0,995.70 L962.5,995.71 L963.0,995.72 L963.5,995.72 L964.0,995.73 L964.5,995.73 L965.0,995.74 L965.5,995.75 L966.0,995.75 L966.5,995.76 L967.0,995.76 L967.5,995.77 L968.0,995.77 L968.5,995.78 L969.0,995.79 L969.5,995.79 L970.0,995.80 L970.5,995.80 L971.0,995.81 L971.5,995.81 L972.0,995.82 L972.5,995.82 L973.0,995.83 L973.5,995.83 L974.0,995.84 L974.5,995.84 L975.0,995.85 L975.5,995.85 L976.0,995.85 L976.5,995.86 L977.0,995.86 L977.5,995.87 L978.0,995.87 L978.5,995.88 L979.0,995.88 L979.5,995.88 L980.0,995.89 L980.5,995.89 L981.0,995.90 L981.5,995.90 L982.0,995.91 L982.5,995.91 L983.0,995.91 L983.5,995.92 L984.0,995.92 L984.5,995.92 L985.0,995.93 L985.5,995.93 L986.0,995.94 L986.5,995.94 L987.0,995.94 L987.5,995.95 L988.0,995.95 L988.5,995.95 L989.0,995.96 L989.5,995.96 L990.0,995.96 L990.5,995.97 L991.0,995.97 L991.5,995.97 L992.0,995.98 L992.5,995.98 L993.0,995.98 L993.5,995.99 L994.0,995.99 L994.5,995.99 L995.0,995.99 L995.5,996.00 L996.0,996.00 L996.5,996.00 L997.0,996.01 L997.5,996.01 L998.0,996.01 L998.5,996.01 L999.0,996.02 L999.5,996.02 L1000.0,996.02 L1000.5,996.03 L1001.0,996.03 L1001.5,996.03 L1002.0,996.03 L1002.5,996.04 L1003.0,996.04 L1003.5,996.04 L1004.0,996.04 L1004.5,996.05 L1005.0,996.05 L1005.5,996.05 L1006.0,996.05 L1006.5,996.06 L1007.0,996.06 L1007.5,996.06 L1008.0,996.06 L1008.5,996.07 L1009.0,996.07 L1009.5,996.07 L1010.0,996.07 L1010.5,996.08 L1011.0,996.08 L1011.5,996.08 L1012.0,996.08 L1012.5,996.08 L1013.0,996.09 L1013.5,996.09 L1014.0,996.09 L1014.5,996.09 L1015.0,996.10 L1015.5,996.10 L1016.0,996.10 L1016.5,996.10 L1017.0,996.10 L1017.5,996.11 L1018.0,996.11 L1018.5,996.11 L1019.0,996.11 L1019.5,996.11 L1020.0,996.12 L1020.5,996.12 L1021.0,996.12 L1021.5,996.12 L1022.0,996.12 L1022.5,996.13 L1023.0,996.13 L1023.5,996.13 L1024.0,996.13 L1024.5,996.13 L1025.0,996.13 L1025.5,996.14 L1026.0,996.14 L1026.5,996.14 L1027.0,996.14 L1027.5,996.14 L1028.0,996.15 L1028.5,996.15 L1029.0,996.15 L1029.5,996.15 L1030.0,996.15 L1030.5,996.15 L1031.0,996.16 L1031.5,996.16 L1032.0,996.16 L1032.5,996.16 L1033.0,996.16 L1033.5,996.16 L1034.0,996.17 L1034.5,996.17 L1035.0,996.17 L1035.5,996.17 L1036.0,996.17 L1036.5,996.17 L1037.0,996.17 L1037.5,996.18 L1038.0,996.18 L1038.5,996.18 L1039.0,996.18 L1039.5,996.18 L1040.0,996.18 L1040.5,996.19 L1041.0,996.19 L1041.5,996.19 L1042.0,996.19 L1042.5,996.19 L1043.0,996.19 L1043.5,996.19 L1044.0,996.20 L1044.5,996.20 L1045.0,996.20 L1045.5,996.20 L1046.0,996.20 L1046.5,996.20 L1047.0,996.20 L1047.5,996.20 L1048.0,996.21 L1048.5,996.21 L1049.0,996.21 L1049.5,996.21 L1050.0,996.21 L1050.5,996.21 L1051.0,996.21 L1051.5,996.22 L1052.0,996.22 L1052.5,996.22 L1053.0,996.22 L1053.5,996.22 L1054.0,996.22 L1054.5,996.22 L1055.0,996.22 L1055.5,996.23 L1056.0,996.23 L1056.5,996.23 L1057.0,996.23 L1057.5,996.23 L1058.0,996.23 L1058.5,996.23 L1059.0,996.23 L1059.5,996.23 L1060.0,996.24 L1060.5,996.24 L1061.0,996.24 L1061.5,996.24 L1062.0,996.24 L1062.5,996.24 L1063.0,996.24 L1063.5,996.24 L1064.0,996.24 L1064.5,996.25 L1065.0,996.25 L1065.5,996.25 L1066.0,996.25 L1066.5,996.25 L1067.0,996.25 L1067.5,996.25 L1068.0,996.25 L1068.5,996.25 L1069.0,996.26 L1069.5,996.26 L1070.0,996.26 L1070.5,996.26 L1071.0,996.26 L1071.5,996.26 L1072.0,996.26 L1072.5,996.26 L1073.0,996.26 L1073.5,996.26 L1074.0,996.27 L1074.5,996.27 L1075.0,996.27 L1075.5,996.27 L1076.0,996.27 L1076.5,996.27 L1077.0,996.27 L1077.5,996.27 L1078.0,996.27 L1078.5,996.27 L1079.0,996.27 L1079.5,996.28 L1080.0,996.28 L1080.5,996.28 L1081.0,996.28 L1081.5,996.28 L1082.0,996.28 L1082.5,996.28 L1083.0,996.28 L1083.5,996.28 L1084.0,996.28 L1084.5,996.28 L1085.0,996.29 L1085.5,996.29 L1086.0,996.29 L1086.5,996.29 L1087.0,996.29 L1087.5,996.29 L1088.0,996.29 L1088.5,996.29 L1089.0,996.29 L1089.5,996.29 L1090.0,996.29 L1090.5,996.30 L1091.0,996.30 L1091.5,996.30 L1092.0,996.30 L1092.5,996.30 L1093.0,996.30 L1093.5,996.30 L1094.0,996.30 L1094.5,996.30 L1095.0,996.30 L1095.5,996.30 L1096.0,996.30 L1096.5,996.30 L1097.0,996.31 L1097.5,996.31 L1098.0,996.31 L1098.5,996.31 L1099.0,996.31 L1099.5,996.31 L1100.0,996.31 L1100.5,996.31 L1101.0,996.31 L1101.5,996.31 L1102.0,996.31 L1102.5,996.31 L1103.0,996.31 L1103.5,996.32 L1104.0,996.32 L1104.5,996.32 L1105.0,996.32 L1105.5,996.32 L1106.0,996.32 L1106.5,996.32 L1107.0,996.32 L1107.5,996.32 L1108.0,996.32 L1108.5,996.32 L1109.0,996.32 L1109.5,996.32 L1110.0,996.32 L1110.5,996.32 L1111.0,996.33 L1111.5,996.33 L1112.0,996.33 L1112.5,996.33 L1113.0,996.33 L1113.5,996.33 L1114.0,996.33 L1114.5,996.33 L1115.0,996.33 L1115.5,996.33 L1116.0,996.33 L1116.5,996.33 L1117.0,996.33 L1117.5,996.33 L1118.0,996.33 L1118.5,996.34 L1119.0,996.34 L1119.5,996.34 L1120.0,996.34 L1120.5,996.34 L1121.0,996.34 L1121.5,996.34 L1122.0,996.34 L1122.5,996.34 L1123.0,996.34 L1123.5,996.34 L1124.0,996.34 L1124.5,996.34 L1125.0,996.34 L1125.5,996.34 L1126.0,996.34 L1126.5,996.34 L1127.0,996.35 L1127.5,996.35 L1128.0,996.35 L1128.5,996.35 L1129.0,996.35 L1129.5,996.35 L1130.0,996.35 L1130.5,996.35 L1131.0,996.35 L1131.5,996.35 L1132.0,996.35 L1132.5,996.35 L1133.0,996.35 L1133.5,996.35 L1134.0,996.35 L1134.5,996.35 L1135.0,996.35 L1135.5,996.35 L1136.0,996.36 L1136.5,996.36 L1137.0,996.36 L1137.5,996.36 L1138.0,996.36 L1138.5,996.36 L1139.0,996.36 L1139.5,996.36 L1140.0,996.36 L1140.5,996.36 L1141.0,996.36 L1141.5,996.36 L1142.0,996.36 L1142.5,996.36 L1143.0,996.36 L1143.5,996.36 L1144.0,996.36 L1144.5,996.36 L1145.0,996.36 L1145.5,996.37 L1146.0,996.37 L1146.5,996.37 L1147.0,996.37 L1147.5,996.37 L1148.0,996.37 L1148.5,996.37 L1149.0,996.37 L1149.5,996.37 L1150.0,996.37 L1150.5,996.37 L1151.0,996.37 L1151.5,996.37 L1152.0,996.37 L1152.5,996.37 L1153.0,996.37 L1153.5,996.37 L1154.0,996.37 L1154.5,996.37 L1155.0,996.37 L1155.5,996.37 L1156.0,996.38 L1156.5,996.38 L1157.0,996.38 L1157.5,996.38 L1158.0,996.38 L1158.5,996.38 L1159.0,996.38 L1159.5,996.38 L1160.0,996.38 L1160.5,996.38 L1161.0,996.38 L1161.5,996.38 L1162.0,996.38 L1162.5,996.38 L1163.0,996.38 L1163.5,996.38 L1164.0,996.38 L1164.5,996.38 L1165.0,996.38 L1165.5,996.38 L1166.0,996.38 L1166.5,996.38 L1167.0,996.38 L1167.5,996.39 L1168.0,996.39 L1168.5,996.39 L1169.0,996.39 L1169.5,996.39 L1170.0,996.39 L1170.5,996.39 L1171.0,996.39 L1171.5,996.39 L1172.0,996.39 L1172.5,996.39 L1173.0,996.39 L1173.5,996.39 L1174.0,996.39 L1174.5,996.39 L1175.0,996.39 L1175.5,996.39 L1176.0,996.39 L1176.5,996.39 L1177.0,996.39 L1177.5,996.39 L1178.0,996.39 L1178.5,996.39 L1179.0,996.39 L1179.5,996.39 L1180.0,996.40 L1180.5,996.40 L1181.0,996.40 L1181.5,996.40 L1182.0,996.40 L1182.5,996.40 L1183.0,996.40 L1183.5,996.40 L1184.0,996.40 L1184.5,996.40 L1185.0,996.40 L1185.5,996.40 L1186.0,996.40 L1186.5,996.40 L1187.0,996.40 L1187.5,996.40 L1188.0,996.40 L1188.5,996.40 L1189.0,996.40 L1189.5,996.40 L1190.0,996.40 L1190.5,996.40 L1191.0,996.40 L1191.5,996.40 L1192.0,996.40 L1192.5,996.40 L1193.0,996.40"/>
</g>
<g fill="#fff">
<rect x="747" y="10" width="44" height="30"/>
<rect x="1134" y="300" width="46" height="16"/>
<rect x="1131" y="645" width="44" height="16"/>
<rect x="1131" y="988" width="40" height="16"/>
</g>
<g font-size="36">
<text transform="translate(261,266.5) rotate(-90)">3720</text>
<text transform="translate(729.3,225) rotate(-90)">3464</text>
<text transform="translate(780,93) rotate(-90)">3435</text>
<text transform="translate(896.7,171) rotate(-90)">3370</text>
</g>
<g font-size="42">
<text x="1136.3" y="315.5">u</text>
<text x="1133.8" y="654.8">u</text>
<text x="1134.1" y="978.7">u</text>
</g>
<!-- alpha -->
<g fill="#000">
<path fill-rule="evenodd" d="M1166.3,327.2 C1163.0,327.2 1161.0,330.6 1161.0,334.0 C1161.0,337.6 1163.0,340.1 1165.8,340.1 C1168.6,340.1 1170.4,337.6 1171.4,334.5 L1171.6,332.6 C1170.9,329.3 1169.0,327.2 1166.3,327.2 Z M1166.2,328.2 C1164.6,328.2 1163.9,330.7 1163.9,333.7 C1163.9,336.9 1164.7,339.1 1166.0,339.1 C1167.8,339.1 1169.4,336.6 1170.2,333.8 C1169.8,330.3 1168.0,328.2 1166.2,328.2 Z"/>
<path fill="none" stroke="#000" stroke-width="2.1" stroke-linecap="round" d="M1174.6,328.4 C1173.6,331.6 1172.6,334.6 1172.3,336.6 C1172.2,339.0 1173.3,339.6 1174.3,339.4 C1175.0,339.2 1175.5,338.7 1175.8,338.2"/>
</g>
<!-- beta -->
<g fill="none" stroke="#000">
<path stroke-width="2.1" stroke-linecap="round" d="M1160.0,684.0 L1160.0,665.5 C1160.0,662.0 1161.8,660.4 1164.4,660.4"/>
<path stroke-width="1.5" d="M1164.4,660.4 C1167.4,660.4 1168.8,662.2 1168.8,664.4 C1168.8,666.8 1166.6,668.3 1163.0,668.3"/>
<path stroke-width="1.6" d="M1163.0,668.3 C1167.6,668.3 1170.2,670.4 1170.2,673.4 C1170.2,676.6 1168.2,678.5 1165.8,678.5 C1164.0,678.5 1163.0,678.0 1162.4,677.4"/>
</g>
<!-- gamma -->
<g fill="#000" stroke="#000">
<path fill="none" stroke-width="1.7" stroke-linecap="round" d="M1157.6,994.0 C1157.6,992.0 1158.2,991.3 1159.0,991.3 C1160.6,991.3 1161.4,994.6 1162.3,1000.6"/>
<path fill="none" stroke-width="2.0" stroke-linecap="round" d="M1166.2,991.6 L1162.3,1000.6"/>
<path stroke-width="0.4" d="M1162.3,1000.4 C1161.3,1003.8 1161.1,1008.4 1162.4,1008.4 C1163.7,1008.4 1163.5,1003.8 1162.3,1000.4 Z"/>
</g>
<g font-size="42" text-anchor="middle">
<text transform="translate(111.5,1065.3) scale(1,1.035)">3800</text>
<text transform="translate(471.5,1065.3) scale(1,1.035)">3600</text>
<text transform="translate(831.5,1065.3) scale(1,1.035)">3400</text>
<text transform="translate(1191.5,1065.3) scale(1,1.035)">3200</text>
</g>
<text font-size="42" transform="translate(44.6,651) rotate(-90)">Absorbance</text>
<text font-size="42" x="472" y="1146">wavenumber (cm</text>
<!-- superscript -1 -->
<rect x="794.9" y="1112.6" width="7.2" height="2.4" fill="#000"/>
<path fill="#000" d="M810.0,1120.5 L810.0,1105.6 C808.8,1106.7 807.3,1107.6 805.8,1108.2 L805.8,1106.0 C808.2,1104.9 810.0,1103.3 810.9,1101.6 L812.6,1101.6 L812.6,1120.5 Z"/>
<text font-size="42" x="820.3" y="1146">)</text>
</svg>
</body></html>
